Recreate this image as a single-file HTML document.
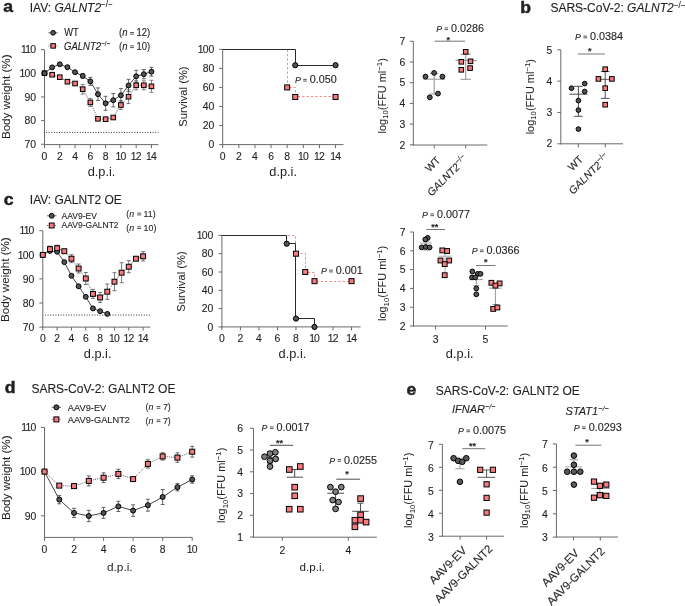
<!DOCTYPE html>
<html><head><meta charset="utf-8"><title>Figure</title><style>
html,body{margin:0;padding:0;background:#fff;width:685px;height:606px;overflow:hidden}
svg{display:block;will-change:transform}
text{font-family:"Liberation Sans", sans-serif;fill:#231f20;stroke:#231f20;stroke-width:0.12px}
</style></head><body>
<svg width="685" height="606" viewBox="0 0 685 606">
<text transform="translate(3.3,11.9) scale(1.1,1)" font-size="16.0" font-weight="bold" style="stroke-width:0.45px">a</text>
<text transform="translate(29.7,11.6)" font-size="12">IAV: <tspan font-style="italic">GALNT2</tspan><tspan dy="-4.5" font-size="0.68em">−/−</tspan></text>
<line x1="48.4" y1="32.8" x2="57.8" y2="32.8" stroke="#444" stroke-width="0.8" stroke-linecap="butt"/>
<circle cx="53.1" cy="32.8" r="2.35" fill="#5a5a5a" stroke="#000" stroke-width="1.0"/>
<text transform="translate(64.2,36.1) scale(0.88,1)" font-size="10.6">WT</text>
<text transform="translate(119,36.2) scale(0.95,1)" font-size="10">(<tspan font-style="italic">n</tspan></text>
<line x1="130.1" y1="32.5" x2="133.9" y2="32.5" stroke="#444" stroke-width="0.9" stroke-linecap="butt"/>
<line x1="130.1" y1="34.2" x2="133.9" y2="34.2" stroke="#444" stroke-width="0.9" stroke-linecap="butt"/>
<text transform="translate(136.4,36.2) scale(0.95,1)" font-size="10">12)</text>
<line x1="48.4" y1="45.9" x2="57.8" y2="45.9" stroke="#444" stroke-width="0.8" stroke-dasharray="1 1" stroke-linecap="butt"/>
<rect x="50.85" y="43.65" width="4.5" height="4.5" fill="#f67b7f" stroke="#000" stroke-width="1.0"/>
<text transform="translate(64,49.8) scale(0.9,1)" font-size="10.6"><tspan font-style="italic">GALNT2</tspan><tspan dy="-4.2" font-size="0.66em">−/−</tspan></text>
<text transform="translate(119,49.6) scale(0.95,1)" font-size="10">(<tspan font-style="italic">n</tspan></text>
<line x1="130.1" y1="45.9" x2="133.9" y2="45.9" stroke="#444" stroke-width="0.9" stroke-linecap="butt"/>
<line x1="130.1" y1="47.6" x2="133.9" y2="47.6" stroke="#444" stroke-width="0.9" stroke-linecap="butt"/>
<text transform="translate(136.4,49.6) scale(0.95,1)" font-size="10">10)</text>
<line x1="44.5" y1="49.65" x2="44.5" y2="145.1" stroke="#6a6a6a" stroke-width="1.0" stroke-linecap="butt"/>
<line x1="44" y1="144.6" x2="158.5" y2="144.6" stroke="#6a6a6a" stroke-width="1.0" stroke-linecap="butt"/>
<line x1="41" y1="49.65" x2="44.5" y2="49.65" stroke="#6a6a6a" stroke-width="1.0" stroke-linecap="butt"/>
<text transform="translate(36,53.35)" font-size="10.4" text-anchor="end">1<tspan dx="-0.8">1</tspan><tspan dx="-0.8">0</tspan></text>
<line x1="41" y1="73.3" x2="44.5" y2="73.3" stroke="#6a6a6a" stroke-width="1.0" stroke-linecap="butt"/>
<text transform="translate(36,77)" font-size="10.4" text-anchor="end">1<tspan dx="-0.8">0</tspan>0</text>
<line x1="41" y1="96.95" x2="44.5" y2="96.95" stroke="#6a6a6a" stroke-width="1.0" stroke-linecap="butt"/>
<text transform="translate(36,100.65)" font-size="10.4" text-anchor="end">90</text>
<line x1="41" y1="120.6" x2="44.5" y2="120.6" stroke="#6a6a6a" stroke-width="1.0" stroke-linecap="butt"/>
<text transform="translate(36,124.3)" font-size="10.4" text-anchor="end">80</text>
<line x1="41" y1="144.25" x2="44.5" y2="144.25" stroke="#6a6a6a" stroke-width="1.0" stroke-linecap="butt"/>
<text transform="translate(36,147.95)" font-size="10.4" text-anchor="end">70</text>
<line x1="44.5" y1="144.6" x2="44.5" y2="148.1" stroke="#6a6a6a" stroke-width="1.0" stroke-linecap="butt"/>
<text transform="translate(44.5,159.7)" font-size="10.4" text-anchor="middle">0</text>
<line x1="59.78" y1="144.6" x2="59.78" y2="148.1" stroke="#6a6a6a" stroke-width="1.0" stroke-linecap="butt"/>
<text transform="translate(59.78,159.7)" font-size="10.4" text-anchor="middle">2</text>
<line x1="75.06" y1="144.6" x2="75.06" y2="148.1" stroke="#6a6a6a" stroke-width="1.0" stroke-linecap="butt"/>
<text transform="translate(75.06,159.7)" font-size="10.4" text-anchor="middle">4</text>
<line x1="90.34" y1="144.6" x2="90.34" y2="148.1" stroke="#6a6a6a" stroke-width="1.0" stroke-linecap="butt"/>
<text transform="translate(90.34,159.7)" font-size="10.4" text-anchor="middle">6</text>
<line x1="105.62" y1="144.6" x2="105.62" y2="148.1" stroke="#6a6a6a" stroke-width="1.0" stroke-linecap="butt"/>
<text transform="translate(105.62,159.7)" font-size="10.4" text-anchor="middle">8</text>
<line x1="120.9" y1="144.6" x2="120.9" y2="148.1" stroke="#6a6a6a" stroke-width="1.0" stroke-linecap="butt"/>
<text transform="translate(120.9,159.7)" font-size="10.4" text-anchor="middle">1<tspan dx="-0.8">0</tspan></text>
<line x1="136.18" y1="144.6" x2="136.18" y2="148.1" stroke="#6a6a6a" stroke-width="1.0" stroke-linecap="butt"/>
<text transform="translate(136.18,159.7)" font-size="10.4" text-anchor="middle">1<tspan dx="-0.8">2</tspan></text>
<line x1="151.46" y1="144.6" x2="151.46" y2="148.1" stroke="#6a6a6a" stroke-width="1.0" stroke-linecap="butt"/>
<text transform="translate(151.46,159.7)" font-size="10.4" text-anchor="middle">1<tspan dx="-0.8">4</tspan></text>
<line x1="46" y1="132.43" x2="158.5" y2="132.43" stroke="#333" stroke-width="1.0" stroke-dasharray="1 1.6" stroke-linecap="butt"/>
<text transform="translate(101.55,176.4) scale(1.03,1)" font-size="12.4" text-anchor="middle" style="stroke-width:0">d.p.i.</text>
<text transform="translate(9.5,96.8) rotate(-90) scale(1.04,1)" font-size="11.2" text-anchor="middle" style="stroke-width:0.04px">Body weight (%)</text>
<line x1="82.7" y1="84.4" x2="82.7" y2="94" stroke="#666" stroke-width="0.8" stroke-linecap="butt"/>
<line x1="80.7" y1="84.4" x2="84.7" y2="84.4" stroke="#666" stroke-width="0.8" stroke-linecap="butt"/>
<line x1="80.7" y1="94" x2="84.7" y2="94" stroke="#666" stroke-width="0.8" stroke-linecap="butt"/>
<line x1="90.34" y1="98.4" x2="90.34" y2="106.4" stroke="#666" stroke-width="0.8" stroke-linecap="butt"/>
<line x1="88.34" y1="98.4" x2="92.34" y2="98.4" stroke="#666" stroke-width="0.8" stroke-linecap="butt"/>
<line x1="88.34" y1="106.4" x2="92.34" y2="106.4" stroke="#666" stroke-width="0.8" stroke-linecap="butt"/>
<line x1="120.9" y1="100.5" x2="120.9" y2="109.5" stroke="#666" stroke-width="0.8" stroke-linecap="butt"/>
<line x1="118.9" y1="100.5" x2="122.9" y2="100.5" stroke="#666" stroke-width="0.8" stroke-linecap="butt"/>
<line x1="118.9" y1="109.5" x2="122.9" y2="109.5" stroke="#666" stroke-width="0.8" stroke-linecap="butt"/>
<line x1="128.54" y1="89.9" x2="128.54" y2="103.5" stroke="#666" stroke-width="0.8" stroke-linecap="butt"/>
<line x1="126.54" y1="89.9" x2="130.54" y2="89.9" stroke="#666" stroke-width="0.8" stroke-linecap="butt"/>
<line x1="126.54" y1="103.5" x2="130.54" y2="103.5" stroke="#666" stroke-width="0.8" stroke-linecap="butt"/>
<line x1="136.18" y1="80.8" x2="136.18" y2="89.8" stroke="#666" stroke-width="0.8" stroke-linecap="butt"/>
<line x1="134.18" y1="80.8" x2="138.18" y2="80.8" stroke="#666" stroke-width="0.8" stroke-linecap="butt"/>
<line x1="134.18" y1="89.8" x2="138.18" y2="89.8" stroke="#666" stroke-width="0.8" stroke-linecap="butt"/>
<line x1="143.82" y1="80.8" x2="143.82" y2="89.8" stroke="#666" stroke-width="0.8" stroke-linecap="butt"/>
<line x1="141.82" y1="80.8" x2="145.82" y2="80.8" stroke="#666" stroke-width="0.8" stroke-linecap="butt"/>
<line x1="141.82" y1="89.8" x2="145.82" y2="89.8" stroke="#666" stroke-width="0.8" stroke-linecap="butt"/>
<line x1="151.46" y1="80.3" x2="151.46" y2="92.3" stroke="#666" stroke-width="0.8" stroke-linecap="butt"/>
<line x1="149.46" y1="80.3" x2="153.46" y2="80.3" stroke="#666" stroke-width="0.8" stroke-linecap="butt"/>
<line x1="149.46" y1="92.3" x2="153.46" y2="92.3" stroke="#666" stroke-width="0.8" stroke-linecap="butt"/>
<line x1="82.7" y1="73.7" x2="82.7" y2="78.1" stroke="#444" stroke-width="0.8" stroke-linecap="butt"/>
<line x1="80.7" y1="73.7" x2="84.7" y2="73.7" stroke="#444" stroke-width="0.8" stroke-linecap="butt"/>
<line x1="80.7" y1="78.1" x2="84.7" y2="78.1" stroke="#444" stroke-width="0.8" stroke-linecap="butt"/>
<line x1="90.34" y1="77.4" x2="90.34" y2="85.4" stroke="#444" stroke-width="0.8" stroke-linecap="butt"/>
<line x1="88.34" y1="77.4" x2="92.34" y2="77.4" stroke="#444" stroke-width="0.8" stroke-linecap="butt"/>
<line x1="88.34" y1="85.4" x2="92.34" y2="85.4" stroke="#444" stroke-width="0.8" stroke-linecap="butt"/>
<line x1="97.98" y1="87.9" x2="97.98" y2="100.5" stroke="#444" stroke-width="0.8" stroke-linecap="butt"/>
<line x1="95.98" y1="87.9" x2="99.98" y2="87.9" stroke="#444" stroke-width="0.8" stroke-linecap="butt"/>
<line x1="95.98" y1="100.5" x2="99.98" y2="100.5" stroke="#444" stroke-width="0.8" stroke-linecap="butt"/>
<line x1="105.62" y1="96.3" x2="105.62" y2="110.3" stroke="#444" stroke-width="0.8" stroke-linecap="butt"/>
<line x1="103.62" y1="96.3" x2="107.62" y2="96.3" stroke="#444" stroke-width="0.8" stroke-linecap="butt"/>
<line x1="103.62" y1="110.3" x2="107.62" y2="110.3" stroke="#444" stroke-width="0.8" stroke-linecap="butt"/>
<line x1="113.26" y1="93.5" x2="113.26" y2="106.9" stroke="#444" stroke-width="0.8" stroke-linecap="butt"/>
<line x1="111.26" y1="93.5" x2="115.26" y2="93.5" stroke="#444" stroke-width="0.8" stroke-linecap="butt"/>
<line x1="111.26" y1="106.9" x2="115.26" y2="106.9" stroke="#444" stroke-width="0.8" stroke-linecap="butt"/>
<line x1="120.9" y1="88.6" x2="120.9" y2="102" stroke="#444" stroke-width="0.8" stroke-linecap="butt"/>
<line x1="118.9" y1="88.6" x2="122.9" y2="88.6" stroke="#444" stroke-width="0.8" stroke-linecap="butt"/>
<line x1="118.9" y1="102" x2="122.9" y2="102" stroke="#444" stroke-width="0.8" stroke-linecap="butt"/>
<line x1="128.54" y1="79.3" x2="128.54" y2="91.7" stroke="#444" stroke-width="0.8" stroke-linecap="butt"/>
<line x1="126.54" y1="79.3" x2="130.54" y2="79.3" stroke="#444" stroke-width="0.8" stroke-linecap="butt"/>
<line x1="126.54" y1="91.7" x2="130.54" y2="91.7" stroke="#444" stroke-width="0.8" stroke-linecap="butt"/>
<line x1="136.18" y1="70.3" x2="136.18" y2="82.3" stroke="#444" stroke-width="0.8" stroke-linecap="butt"/>
<line x1="134.18" y1="70.3" x2="138.18" y2="70.3" stroke="#444" stroke-width="0.8" stroke-linecap="butt"/>
<line x1="134.18" y1="82.3" x2="138.18" y2="82.3" stroke="#444" stroke-width="0.8" stroke-linecap="butt"/>
<line x1="143.82" y1="69.6" x2="143.82" y2="78.8" stroke="#444" stroke-width="0.8" stroke-linecap="butt"/>
<line x1="141.82" y1="69.6" x2="145.82" y2="69.6" stroke="#444" stroke-width="0.8" stroke-linecap="butt"/>
<line x1="141.82" y1="78.8" x2="145.82" y2="78.8" stroke="#444" stroke-width="0.8" stroke-linecap="butt"/>
<line x1="151.46" y1="67.3" x2="151.46" y2="76.1" stroke="#444" stroke-width="0.8" stroke-linecap="butt"/>
<line x1="149.46" y1="67.3" x2="153.46" y2="67.3" stroke="#444" stroke-width="0.8" stroke-linecap="butt"/>
<line x1="149.46" y1="76.1" x2="153.46" y2="76.1" stroke="#444" stroke-width="0.8" stroke-linecap="butt"/>
<polyline points="44.5,73.2 52.14,74.7 59.78,77.2 67.42,81.7 75.06,83.5 82.7,89.2 90.34,102.4 97.98,118.8 105.62,119.2 113.26,117.5 120.9,105 128.54,96.7 136.18,85.3 143.82,85.3 151.46,86.3" fill="none" stroke="#333" stroke-width="0.8" stroke-dasharray="1 1.2" stroke-linejoin="round"/>
<polyline points="44.5,73.2 52.14,67.4 59.78,64.3 67.42,67.2 75.06,72.2 82.7,75.9 90.34,81.4 97.98,94.2 105.62,103.3 113.26,100.2 120.9,95.3 128.54,85.5 136.18,76.3 143.82,74.2 151.46,71.7" fill="none" stroke="#333" stroke-width="0.9" stroke-linejoin="round"/>
<rect x="42.2" y="70.9" width="4.6" height="4.6" fill="#f67b7f" stroke="#000" stroke-width="1.0"/>
<rect x="49.84" y="72.4" width="4.6" height="4.6" fill="#f67b7f" stroke="#000" stroke-width="1.0"/>
<rect x="57.48" y="74.9" width="4.6" height="4.6" fill="#f67b7f" stroke="#000" stroke-width="1.0"/>
<rect x="65.12" y="79.4" width="4.6" height="4.6" fill="#f67b7f" stroke="#000" stroke-width="1.0"/>
<rect x="72.76" y="81.2" width="4.6" height="4.6" fill="#f67b7f" stroke="#000" stroke-width="1.0"/>
<rect x="80.4" y="86.9" width="4.6" height="4.6" fill="#f67b7f" stroke="#000" stroke-width="1.0"/>
<rect x="88.04" y="100.1" width="4.6" height="4.6" fill="#f67b7f" stroke="#000" stroke-width="1.0"/>
<rect x="95.68" y="116.5" width="4.6" height="4.6" fill="#f67b7f" stroke="#000" stroke-width="1.0"/>
<rect x="103.32" y="116.9" width="4.6" height="4.6" fill="#f67b7f" stroke="#000" stroke-width="1.0"/>
<rect x="110.96" y="115.2" width="4.6" height="4.6" fill="#f67b7f" stroke="#000" stroke-width="1.0"/>
<rect x="118.6" y="102.7" width="4.6" height="4.6" fill="#f67b7f" stroke="#000" stroke-width="1.0"/>
<rect x="126.24" y="94.4" width="4.6" height="4.6" fill="#f67b7f" stroke="#000" stroke-width="1.0"/>
<rect x="133.88" y="83" width="4.6" height="4.6" fill="#f67b7f" stroke="#000" stroke-width="1.0"/>
<rect x="141.52" y="83" width="4.6" height="4.6" fill="#f67b7f" stroke="#000" stroke-width="1.0"/>
<rect x="149.16" y="84" width="4.6" height="4.6" fill="#f67b7f" stroke="#000" stroke-width="1.0"/>
<circle cx="44.5" cy="73.2" r="2.45" fill="#555" stroke="#000" stroke-width="1.0"/>
<circle cx="52.14" cy="67.4" r="2.45" fill="#555" stroke="#000" stroke-width="1.0"/>
<circle cx="59.78" cy="64.3" r="2.45" fill="#555" stroke="#000" stroke-width="1.0"/>
<circle cx="67.42" cy="67.2" r="2.45" fill="#555" stroke="#000" stroke-width="1.0"/>
<circle cx="75.06" cy="72.2" r="2.45" fill="#555" stroke="#000" stroke-width="1.0"/>
<circle cx="82.7" cy="75.9" r="2.45" fill="#555" stroke="#000" stroke-width="1.0"/>
<circle cx="90.34" cy="81.4" r="2.45" fill="#555" stroke="#000" stroke-width="1.0"/>
<circle cx="97.98" cy="94.2" r="2.45" fill="#555" stroke="#000" stroke-width="1.0"/>
<circle cx="105.62" cy="103.3" r="2.45" fill="#555" stroke="#000" stroke-width="1.0"/>
<circle cx="113.26" cy="100.2" r="2.45" fill="#555" stroke="#000" stroke-width="1.0"/>
<circle cx="120.9" cy="95.3" r="2.45" fill="#555" stroke="#000" stroke-width="1.0"/>
<circle cx="128.54" cy="85.5" r="2.45" fill="#555" stroke="#000" stroke-width="1.0"/>
<circle cx="136.18" cy="76.3" r="2.45" fill="#555" stroke="#000" stroke-width="1.0"/>
<circle cx="143.82" cy="74.2" r="2.45" fill="#555" stroke="#000" stroke-width="1.0"/>
<circle cx="151.46" cy="71.7" r="2.45" fill="#555" stroke="#000" stroke-width="1.0"/>
<line x1="222.7" y1="49.3" x2="222.7" y2="145.1" stroke="#6a6a6a" stroke-width="1.0" stroke-linecap="butt"/>
<line x1="222.2" y1="144.6" x2="343.5" y2="144.6" stroke="#6a6a6a" stroke-width="1.0" stroke-linecap="butt"/>
<line x1="219.2" y1="144.6" x2="222.7" y2="144.6" stroke="#6a6a6a" stroke-width="1.0" stroke-linecap="butt"/>
<text transform="translate(214.2,148.3)" font-size="10.4" text-anchor="end">0</text>
<line x1="219.2" y1="125.54" x2="222.7" y2="125.54" stroke="#6a6a6a" stroke-width="1.0" stroke-linecap="butt"/>
<text transform="translate(214.2,129.24)" font-size="10.4" text-anchor="end">20</text>
<line x1="219.2" y1="106.48" x2="222.7" y2="106.48" stroke="#6a6a6a" stroke-width="1.0" stroke-linecap="butt"/>
<text transform="translate(214.2,110.18)" font-size="10.4" text-anchor="end">40</text>
<line x1="219.2" y1="87.42" x2="222.7" y2="87.42" stroke="#6a6a6a" stroke-width="1.0" stroke-linecap="butt"/>
<text transform="translate(214.2,91.12)" font-size="10.4" text-anchor="end">60</text>
<line x1="219.2" y1="68.36" x2="222.7" y2="68.36" stroke="#6a6a6a" stroke-width="1.0" stroke-linecap="butt"/>
<text transform="translate(214.2,72.06)" font-size="10.4" text-anchor="end">80</text>
<line x1="219.2" y1="49.3" x2="222.7" y2="49.3" stroke="#6a6a6a" stroke-width="1.0" stroke-linecap="butt"/>
<text transform="translate(214.2,53)" font-size="10.4" text-anchor="end">1<tspan dx="-0.8">0</tspan>0</text>
<line x1="222.7" y1="144.6" x2="222.7" y2="148.1" stroke="#6a6a6a" stroke-width="1.0" stroke-linecap="butt"/>
<text transform="translate(222.7,159.7)" font-size="10.4" text-anchor="middle">0</text>
<line x1="238.82" y1="144.6" x2="238.82" y2="148.1" stroke="#6a6a6a" stroke-width="1.0" stroke-linecap="butt"/>
<text transform="translate(238.82,159.7)" font-size="10.4" text-anchor="middle">2</text>
<line x1="254.94" y1="144.6" x2="254.94" y2="148.1" stroke="#6a6a6a" stroke-width="1.0" stroke-linecap="butt"/>
<text transform="translate(254.94,159.7)" font-size="10.4" text-anchor="middle">4</text>
<line x1="271.06" y1="144.6" x2="271.06" y2="148.1" stroke="#6a6a6a" stroke-width="1.0" stroke-linecap="butt"/>
<text transform="translate(271.06,159.7)" font-size="10.4" text-anchor="middle">6</text>
<line x1="287.18" y1="144.6" x2="287.18" y2="148.1" stroke="#6a6a6a" stroke-width="1.0" stroke-linecap="butt"/>
<text transform="translate(287.18,159.7)" font-size="10.4" text-anchor="middle">8</text>
<line x1="303.3" y1="144.6" x2="303.3" y2="148.1" stroke="#6a6a6a" stroke-width="1.0" stroke-linecap="butt"/>
<text transform="translate(303.3,159.7)" font-size="10.4" text-anchor="middle">1<tspan dx="-0.8">0</tspan></text>
<line x1="319.42" y1="144.6" x2="319.42" y2="148.1" stroke="#6a6a6a" stroke-width="1.0" stroke-linecap="butt"/>
<text transform="translate(319.42,159.7)" font-size="10.4" text-anchor="middle">1<tspan dx="-0.8">2</tspan></text>
<line x1="335.54" y1="144.6" x2="335.54" y2="148.1" stroke="#6a6a6a" stroke-width="1.0" stroke-linecap="butt"/>
<text transform="translate(335.54,159.7)" font-size="10.4" text-anchor="middle">1<tspan dx="-0.8">4</tspan></text>
<text transform="translate(283.15,176.4) scale(1.03,1)" font-size="12.4" text-anchor="middle" style="stroke-width:0">d.p.i.</text>
<text transform="translate(187.3,96.6) rotate(-90)" font-size="11.2" text-anchor="middle" style="stroke-width:0.04px">Survival (%)</text>
<polyline points="287.5,49.5 287.5,87.5 295.5,87.5 295.5,96.5 335.5,96.5" fill="none" stroke="#f37f7f" stroke-width="0.9" stroke-dasharray="2.4 2" stroke-linejoin="round"/>
<polyline points="222.5,49.5 295.5,49.5 295.5,65.5 335.5,65.5" fill="none" stroke="#2a2a2a" stroke-width="1.0" stroke-linejoin="round"/>
<rect x="284.68" y="84.92" width="5" height="5" fill="#f67b7f" stroke="#000" stroke-width="1.0"/>
<rect x="292.74" y="94.45" width="5" height="5" fill="#f67b7f" stroke="#000" stroke-width="1.0"/>
<rect x="333.04" y="94.45" width="5" height="5" fill="#f67b7f" stroke="#000" stroke-width="1.0"/>
<circle cx="295.24" cy="65.22" r="2.6" fill="#555" stroke="#000" stroke-width="1.0"/>
<circle cx="335.54" cy="65.22" r="2.6" fill="#555" stroke="#000" stroke-width="1.0"/>
<text transform="translate(294.9,83.3) scale(0.9,1)" font-size="9.8" font-style="italic">P</text>
<line x1="303.2" y1="79.4" x2="306.8" y2="79.4" stroke="#444" stroke-width="0.9" stroke-linecap="butt"/>
<line x1="303.2" y1="81.1" x2="306.8" y2="81.1" stroke="#444" stroke-width="0.9" stroke-linecap="butt"/>
<text transform="translate(309.8,83.3) scale(1.02,1)" font-size="10.6">0.050</text>
<line x1="413.3" y1="41.3" x2="413.3" y2="145.5" stroke="#6a6a6a" stroke-width="1.0" stroke-linecap="butt"/>
<line x1="412.8" y1="145" x2="487.3" y2="145" stroke="#6a6a6a" stroke-width="1.0" stroke-linecap="butt"/>
<line x1="409.8" y1="144.8" x2="413.3" y2="144.8" stroke="#6a6a6a" stroke-width="1.0" stroke-linecap="butt"/>
<text transform="translate(405.4,148.5)" font-size="10.4" text-anchor="end">2</text>
<line x1="409.8" y1="124.1" x2="413.3" y2="124.1" stroke="#6a6a6a" stroke-width="1.0" stroke-linecap="butt"/>
<text transform="translate(405.4,127.8)" font-size="10.4" text-anchor="end">3</text>
<line x1="409.8" y1="103.4" x2="413.3" y2="103.4" stroke="#6a6a6a" stroke-width="1.0" stroke-linecap="butt"/>
<text transform="translate(405.4,107.1)" font-size="10.4" text-anchor="end">4</text>
<line x1="409.8" y1="82.7" x2="413.3" y2="82.7" stroke="#6a6a6a" stroke-width="1.0" stroke-linecap="butt"/>
<text transform="translate(405.4,86.4)" font-size="10.4" text-anchor="end">5</text>
<line x1="409.8" y1="62" x2="413.3" y2="62" stroke="#6a6a6a" stroke-width="1.0" stroke-linecap="butt"/>
<text transform="translate(405.4,65.7)" font-size="10.4" text-anchor="end">6</text>
<line x1="409.8" y1="41.3" x2="413.3" y2="41.3" stroke="#6a6a6a" stroke-width="1.0" stroke-linecap="butt"/>
<text transform="translate(405.4,45)" font-size="10.4" text-anchor="end">7</text>
<line x1="434.2" y1="145" x2="434.2" y2="148.5" stroke="#6a6a6a" stroke-width="1.0" stroke-linecap="butt"/>
<line x1="465.7" y1="145" x2="465.7" y2="148.5" stroke="#6a6a6a" stroke-width="1.0" stroke-linecap="butt"/>
<text transform="translate(385.6,95.8) rotate(-90) scale(1.03,1)" font-size="10.6" text-anchor="middle" style="stroke-width:0.04px">log<tspan dy="2.6" font-size="0.72em">10</tspan><tspan dy="-2.6">(FFU ml</tspan><tspan dy="-4" font-size="0.72em">−1</tspan><tspan dy="4">)</tspan></text>
<line x1="423.3" y1="79.2" x2="445" y2="79.2" stroke="#999" stroke-width="1.1" stroke-linecap="butt"/>
<line x1="434.2" y1="73.4" x2="434.2" y2="94" stroke="#999" stroke-width="1.1" stroke-linecap="butt"/>
<line x1="429.95" y1="73.4" x2="438.45" y2="73.4" stroke="#999" stroke-width="1.1" stroke-linecap="butt"/>
<line x1="429.95" y1="94" x2="438.45" y2="94" stroke="#999" stroke-width="1.1" stroke-linecap="butt"/>
<circle cx="425.5" cy="76.6" r="2.4" fill="#555" stroke="#000" stroke-width="1.0"/>
<circle cx="434.1" cy="72.9" r="2.4" fill="#555" stroke="#000" stroke-width="1.0"/>
<circle cx="442.4" cy="76.6" r="2.4" fill="#555" stroke="#000" stroke-width="1.0"/>
<circle cx="429.8" cy="97.3" r="2.4" fill="#555" stroke="#000" stroke-width="1.0"/>
<circle cx="438" cy="93.6" r="2.4" fill="#555" stroke="#000" stroke-width="1.0"/>
<line x1="455.4" y1="60.4" x2="476.7" y2="60.4" stroke="#999" stroke-width="1.1" stroke-linecap="butt"/>
<line x1="465.7" y1="54.3" x2="465.7" y2="79.3" stroke="#999" stroke-width="1.1" stroke-linecap="butt"/>
<line x1="460.6" y1="54.3" x2="470.8" y2="54.3" stroke="#999" stroke-width="1.1" stroke-linecap="butt"/>
<line x1="460.6" y1="79.3" x2="470.8" y2="79.3" stroke="#999" stroke-width="1.1" stroke-linecap="butt"/>
<rect x="463.4" y="49.5" width="4.6" height="4.6" fill="#f67b7f" stroke="#000" stroke-width="1.0"/>
<rect x="459" y="59.5" width="4.6" height="4.6" fill="#f67b7f" stroke="#000" stroke-width="1.0"/>
<rect x="468.2" y="59" width="4.6" height="4.6" fill="#f67b7f" stroke="#000" stroke-width="1.0"/>
<rect x="459" y="67.5" width="4.6" height="4.6" fill="#f67b7f" stroke="#000" stroke-width="1.0"/>
<rect x="467.8" y="65.8" width="4.6" height="4.6" fill="#f67b7f" stroke="#000" stroke-width="1.0"/>
<line x1="434.7" y1="41.2" x2="465" y2="41.2" stroke="#666" stroke-width="0.9" stroke-linecap="butt"/>
<text transform="translate(448.3,42.54)" font-size="9" text-anchor="middle" font-weight="bold">*</text>
<text transform="translate(436.2,31.8) scale(0.9,1)" font-size="9.8" font-style="italic">P</text>
<line x1="444.5" y1="27.9" x2="448.1" y2="27.9" stroke="#444" stroke-width="0.9" stroke-linecap="butt"/>
<line x1="444.5" y1="29.6" x2="448.1" y2="29.6" stroke="#444" stroke-width="0.9" stroke-linecap="butt"/>
<text transform="translate(451.1,31.8) scale(1.02,1)" font-size="10.6">0.0286</text>
<text transform="translate(441.1,160.9) rotate(-45)" font-size="10.5" text-anchor="end">WT</text>
<text transform="translate(468.3,159.8) rotate(-45)" font-size="10.5" text-anchor="end"><tspan font-style="italic">GALNT2</tspan><tspan dy="-4.2" dx="0.4" font-size="0.72em">−/−</tspan></text>
<text transform="translate(520.3,12.6) scale(1.1,1)" font-size="16.0" font-weight="bold" style="stroke-width:0.45px">b</text>
<text transform="translate(550.4,12.3)" font-size="12">SARS-CoV-2: <tspan font-style="italic">GALNT2</tspan><tspan dy="-4.5" font-size="0.68em">−/−</tspan></text>
<line x1="560.8" y1="49.8" x2="560.8" y2="144.3" stroke="#6a6a6a" stroke-width="1.0" stroke-linecap="butt"/>
<line x1="560.3" y1="143.8" x2="623" y2="143.8" stroke="#6a6a6a" stroke-width="1.0" stroke-linecap="butt"/>
<line x1="557.3" y1="143.79" x2="560.8" y2="143.79" stroke="#6a6a6a" stroke-width="1.0" stroke-linecap="butt"/>
<text transform="translate(552.4,147.49)" font-size="10.4" text-anchor="end">2</text>
<line x1="557.3" y1="112.46" x2="560.8" y2="112.46" stroke="#6a6a6a" stroke-width="1.0" stroke-linecap="butt"/>
<text transform="translate(552.4,116.16)" font-size="10.4" text-anchor="end">3</text>
<line x1="557.3" y1="81.13" x2="560.8" y2="81.13" stroke="#6a6a6a" stroke-width="1.0" stroke-linecap="butt"/>
<text transform="translate(552.4,84.83)" font-size="10.4" text-anchor="end">4</text>
<line x1="557.3" y1="49.8" x2="560.8" y2="49.8" stroke="#6a6a6a" stroke-width="1.0" stroke-linecap="butt"/>
<text transform="translate(552.4,53.5)" font-size="10.4" text-anchor="end">5</text>
<line x1="578.4" y1="143.8" x2="578.4" y2="147.3" stroke="#6a6a6a" stroke-width="1.0" stroke-linecap="butt"/>
<line x1="605.3" y1="143.8" x2="605.3" y2="147.3" stroke="#6a6a6a" stroke-width="1.0" stroke-linecap="butt"/>
<text transform="translate(533.7,96.7) rotate(-90) scale(1.03,1)" font-size="10.6" text-anchor="middle" style="stroke-width:0.04px">log<tspan dy="2.6" font-size="0.72em">10</tspan><tspan dy="-2.6">(FFU ml</tspan><tspan dy="-4" font-size="0.72em">−1</tspan><tspan dy="4">)</tspan></text>
<line x1="569.3" y1="94.2" x2="587.5" y2="94.2" stroke="#444" stroke-width="0.95" stroke-linecap="butt"/>
<line x1="578.4" y1="86.3" x2="578.4" y2="116.3" stroke="#444" stroke-width="0.95" stroke-linecap="butt"/>
<line x1="574.1" y1="86.3" x2="582.7" y2="86.3" stroke="#444" stroke-width="0.95" stroke-linecap="butt"/>
<line x1="574.1" y1="116.3" x2="582.7" y2="116.3" stroke="#444" stroke-width="0.95" stroke-linecap="butt"/>
<circle cx="571.5" cy="88.2" r="2.35" fill="#505050" stroke="#000" stroke-width="1.0"/>
<circle cx="584.7" cy="83.6" r="2.35" fill="#505050" stroke="#000" stroke-width="1.0"/>
<circle cx="584.7" cy="91.5" r="2.35" fill="#505050" stroke="#000" stroke-width="1.0"/>
<circle cx="578.4" cy="100.6" r="2.35" fill="#505050" stroke="#000" stroke-width="1.0"/>
<circle cx="578.4" cy="110.1" r="2.35" fill="#505050" stroke="#000" stroke-width="1.0"/>
<circle cx="578.4" cy="129.1" r="2.35" fill="#505050" stroke="#000" stroke-width="1.0"/>
<line x1="595.9" y1="79.3" x2="614.4" y2="79.3" stroke="#444" stroke-width="0.9" stroke-linecap="butt"/>
<line x1="605.2" y1="71.6" x2="605.2" y2="98.4" stroke="#444" stroke-width="0.95" stroke-linecap="butt"/>
<line x1="600.9" y1="71.6" x2="609.5" y2="71.6" stroke="#444" stroke-width="0.95" stroke-linecap="butt"/>
<line x1="600.9" y1="98.4" x2="609.5" y2="98.4" stroke="#444" stroke-width="0.95" stroke-linecap="butt"/>
<rect x="602.9" y="66.9" width="4.6" height="4.6" fill="#f67b7f" stroke="#000" stroke-width="1.0"/>
<rect x="596.1" y="76.6" width="4.6" height="4.6" fill="#f67b7f" stroke="#000" stroke-width="1.0"/>
<rect x="609.6" y="76.6" width="4.6" height="4.6" fill="#f67b7f" stroke="#000" stroke-width="1.0"/>
<rect x="602.9" y="85.9" width="4.6" height="4.6" fill="#f67b7f" stroke="#000" stroke-width="1.0"/>
<rect x="602.9" y="102.4" width="4.6" height="4.6" fill="#f67b7f" stroke="#000" stroke-width="1.0"/>
<line x1="577.8" y1="54" x2="604.8" y2="54" stroke="#666" stroke-width="0.9" stroke-linecap="butt"/>
<text transform="translate(589.7,53.64)" font-size="9" text-anchor="middle" font-weight="bold">*</text>
<text transform="translate(575.1,40) scale(0.9,1)" font-size="9.8" font-style="italic">P</text>
<line x1="583.4" y1="36.1" x2="587" y2="36.1" stroke="#444" stroke-width="0.9" stroke-linecap="butt"/>
<line x1="583.4" y1="37.8" x2="587" y2="37.8" stroke="#444" stroke-width="0.9" stroke-linecap="butt"/>
<text transform="translate(590,40) scale(1.02,1)" font-size="10.6">0.0384</text>
<text transform="translate(583.9,159.9) rotate(-45)" font-size="10.5" text-anchor="end">WT</text>
<text transform="translate(609.9,158) rotate(-45)" font-size="10.5" text-anchor="end"><tspan font-style="italic">GALNT2</tspan><tspan dy="-4.2" dx="0.4" font-size="0.72em">−/−</tspan></text>
<text transform="translate(3.7,204.7) scale(1.1,1)" font-size="16.0" font-weight="bold" style="stroke-width:0.45px">c</text>
<text transform="translate(29.8,204.4)" font-size="12">IAV: GALNT2 OE</text>
<line x1="47" y1="215.8" x2="56.5" y2="215.8" stroke="#444" stroke-width="0.8" stroke-linecap="butt"/>
<circle cx="51.7" cy="215.8" r="2.45" fill="#555" stroke="#000" stroke-width="1.0"/>
<text transform="translate(61.6,218.6)" font-size="8.5">AAV9-EV</text>
<line x1="47" y1="225.5" x2="56.5" y2="225.5" stroke="#444" stroke-width="0.8" stroke-dasharray="1 1" stroke-linecap="butt"/>
<rect x="49.25" y="223.05" width="4.9" height="4.9" fill="#f67b7f" stroke="#000" stroke-width="1.0"/>
<text transform="translate(61.6,228.4)" font-size="8.5">AAV9-GALNT2</text>
<text transform="translate(126.2,216.9) scale(0.95,1)" font-size="9.3">(<tspan font-style="italic">n</tspan></text>
<line x1="137.3" y1="213.2" x2="141.1" y2="213.2" stroke="#444" stroke-width="0.9" stroke-linecap="butt"/>
<line x1="137.3" y1="214.9" x2="141.1" y2="214.9" stroke="#444" stroke-width="0.9" stroke-linecap="butt"/>
<text transform="translate(143.6,216.9) scale(0.95,1)" font-size="9.3">11)</text>
<text transform="translate(126.2,230.5) scale(0.95,1)" font-size="9.3">(<tspan font-style="italic">n</tspan></text>
<line x1="137.3" y1="226.8" x2="141.1" y2="226.8" stroke="#444" stroke-width="0.9" stroke-linecap="butt"/>
<line x1="137.3" y1="228.5" x2="141.1" y2="228.5" stroke="#444" stroke-width="0.9" stroke-linecap="butt"/>
<text transform="translate(143.6,230.5) scale(0.95,1)" font-size="9.3">10)</text>
<line x1="42.8" y1="230.7" x2="42.8" y2="327.6" stroke="#6a6a6a" stroke-width="1.0" stroke-linecap="butt"/>
<line x1="42.3" y1="327.1" x2="150.4" y2="327.1" stroke="#6a6a6a" stroke-width="1.0" stroke-linecap="butt"/>
<line x1="39.3" y1="230.7" x2="42.8" y2="230.7" stroke="#6a6a6a" stroke-width="1.0" stroke-linecap="butt"/>
<text transform="translate(34.4,234.4)" font-size="10.4" text-anchor="end">1<tspan dx="-0.8">1</tspan><tspan dx="-0.8">0</tspan></text>
<line x1="39.3" y1="254.8" x2="42.8" y2="254.8" stroke="#6a6a6a" stroke-width="1.0" stroke-linecap="butt"/>
<text transform="translate(34.4,258.5)" font-size="10.4" text-anchor="end">1<tspan dx="-0.8">0</tspan>0</text>
<line x1="39.3" y1="278.9" x2="42.8" y2="278.9" stroke="#6a6a6a" stroke-width="1.0" stroke-linecap="butt"/>
<text transform="translate(34.4,282.6)" font-size="10.4" text-anchor="end">90</text>
<line x1="39.3" y1="303" x2="42.8" y2="303" stroke="#6a6a6a" stroke-width="1.0" stroke-linecap="butt"/>
<text transform="translate(34.4,306.7)" font-size="10.4" text-anchor="end">80</text>
<line x1="39.3" y1="327.1" x2="42.8" y2="327.1" stroke="#6a6a6a" stroke-width="1.0" stroke-linecap="butt"/>
<text transform="translate(34.4,330.8)" font-size="10.4" text-anchor="end">70</text>
<line x1="42.8" y1="327.1" x2="42.8" y2="330.6" stroke="#6a6a6a" stroke-width="1.0" stroke-linecap="butt"/>
<text transform="translate(42.8,342.3)" font-size="10.4" text-anchor="middle">0</text>
<line x1="57.13" y1="327.1" x2="57.13" y2="330.6" stroke="#6a6a6a" stroke-width="1.0" stroke-linecap="butt"/>
<text transform="translate(57.13,342.3)" font-size="10.4" text-anchor="middle">2</text>
<line x1="71.46" y1="327.1" x2="71.46" y2="330.6" stroke="#6a6a6a" stroke-width="1.0" stroke-linecap="butt"/>
<text transform="translate(71.46,342.3)" font-size="10.4" text-anchor="middle">4</text>
<line x1="85.79" y1="327.1" x2="85.79" y2="330.6" stroke="#6a6a6a" stroke-width="1.0" stroke-linecap="butt"/>
<text transform="translate(85.79,342.3)" font-size="10.4" text-anchor="middle">6</text>
<line x1="100.12" y1="327.1" x2="100.12" y2="330.6" stroke="#6a6a6a" stroke-width="1.0" stroke-linecap="butt"/>
<text transform="translate(100.12,342.3)" font-size="10.4" text-anchor="middle">8</text>
<line x1="114.45" y1="327.1" x2="114.45" y2="330.6" stroke="#6a6a6a" stroke-width="1.0" stroke-linecap="butt"/>
<text transform="translate(114.45,342.3)" font-size="10.4" text-anchor="middle">1<tspan dx="-0.8">0</tspan></text>
<line x1="128.78" y1="327.1" x2="128.78" y2="330.6" stroke="#6a6a6a" stroke-width="1.0" stroke-linecap="butt"/>
<text transform="translate(128.78,342.3)" font-size="10.4" text-anchor="middle">1<tspan dx="-0.8">2</tspan></text>
<line x1="143.11" y1="327.1" x2="143.11" y2="330.6" stroke="#6a6a6a" stroke-width="1.0" stroke-linecap="butt"/>
<text transform="translate(143.11,342.3)" font-size="10.4" text-anchor="middle">1<tspan dx="-0.8">4</tspan></text>
<line x1="45" y1="315.05" x2="150.4" y2="315.05" stroke="#333" stroke-width="1.0" stroke-dasharray="1 1.6" stroke-linecap="butt"/>
<text transform="translate(97.65,357.9) scale(1.03,1)" font-size="12.4" text-anchor="middle" style="stroke-width:0">d.p.i.</text>
<text transform="translate(8.7,279.6) rotate(-90) scale(1.04,1)" font-size="11.2" text-anchor="middle" style="stroke-width:0.04px">Body weight (%)</text>
<line x1="49.96" y1="246.1" x2="49.96" y2="252.1" stroke="#555" stroke-width="0.8" stroke-linecap="butt"/>
<line x1="47.96" y1="246.1" x2="51.96" y2="246.1" stroke="#555" stroke-width="0.8" stroke-linecap="butt"/>
<line x1="47.96" y1="252.1" x2="51.96" y2="252.1" stroke="#555" stroke-width="0.8" stroke-linecap="butt"/>
<line x1="57.13" y1="245.2" x2="57.13" y2="251.2" stroke="#555" stroke-width="0.8" stroke-linecap="butt"/>
<line x1="55.13" y1="245.2" x2="59.13" y2="245.2" stroke="#555" stroke-width="0.8" stroke-linecap="butt"/>
<line x1="55.13" y1="251.2" x2="59.13" y2="251.2" stroke="#555" stroke-width="0.8" stroke-linecap="butt"/>
<line x1="71.46" y1="254.7" x2="71.46" y2="262.7" stroke="#555" stroke-width="0.8" stroke-linecap="butt"/>
<line x1="69.46" y1="254.7" x2="73.46" y2="254.7" stroke="#555" stroke-width="0.8" stroke-linecap="butt"/>
<line x1="69.46" y1="262.7" x2="73.46" y2="262.7" stroke="#555" stroke-width="0.8" stroke-linecap="butt"/>
<line x1="78.62" y1="264" x2="78.62" y2="273" stroke="#555" stroke-width="0.8" stroke-linecap="butt"/>
<line x1="76.62" y1="264" x2="80.62" y2="264" stroke="#555" stroke-width="0.8" stroke-linecap="butt"/>
<line x1="76.62" y1="273" x2="80.62" y2="273" stroke="#555" stroke-width="0.8" stroke-linecap="butt"/>
<line x1="85.79" y1="272.5" x2="85.79" y2="284.5" stroke="#555" stroke-width="0.8" stroke-linecap="butt"/>
<line x1="83.79" y1="272.5" x2="87.79" y2="272.5" stroke="#555" stroke-width="0.8" stroke-linecap="butt"/>
<line x1="83.79" y1="284.5" x2="87.79" y2="284.5" stroke="#555" stroke-width="0.8" stroke-linecap="butt"/>
<line x1="92.95" y1="289.4" x2="92.95" y2="298.4" stroke="#555" stroke-width="0.8" stroke-linecap="butt"/>
<line x1="90.95" y1="289.4" x2="94.95" y2="289.4" stroke="#555" stroke-width="0.8" stroke-linecap="butt"/>
<line x1="90.95" y1="298.4" x2="94.95" y2="298.4" stroke="#555" stroke-width="0.8" stroke-linecap="butt"/>
<line x1="100.12" y1="292.5" x2="100.12" y2="302.5" stroke="#555" stroke-width="0.8" stroke-linecap="butt"/>
<line x1="98.12" y1="292.5" x2="102.12" y2="292.5" stroke="#555" stroke-width="0.8" stroke-linecap="butt"/>
<line x1="98.12" y1="302.5" x2="102.12" y2="302.5" stroke="#555" stroke-width="0.8" stroke-linecap="butt"/>
<line x1="107.28" y1="284" x2="107.28" y2="299.4" stroke="#555" stroke-width="0.8" stroke-linecap="butt"/>
<line x1="105.28" y1="284" x2="109.28" y2="284" stroke="#555" stroke-width="0.8" stroke-linecap="butt"/>
<line x1="105.28" y1="299.4" x2="109.28" y2="299.4" stroke="#555" stroke-width="0.8" stroke-linecap="butt"/>
<line x1="114.45" y1="272.7" x2="114.45" y2="290.7" stroke="#555" stroke-width="0.8" stroke-linecap="butt"/>
<line x1="112.45" y1="272.7" x2="116.45" y2="272.7" stroke="#555" stroke-width="0.8" stroke-linecap="butt"/>
<line x1="112.45" y1="290.7" x2="116.45" y2="290.7" stroke="#555" stroke-width="0.8" stroke-linecap="butt"/>
<line x1="121.61" y1="262.7" x2="121.61" y2="282.7" stroke="#555" stroke-width="0.8" stroke-linecap="butt"/>
<line x1="119.61" y1="262.7" x2="123.61" y2="262.7" stroke="#555" stroke-width="0.8" stroke-linecap="butt"/>
<line x1="119.61" y1="282.7" x2="123.61" y2="282.7" stroke="#555" stroke-width="0.8" stroke-linecap="butt"/>
<line x1="128.78" y1="260.7" x2="128.78" y2="272.7" stroke="#555" stroke-width="0.8" stroke-linecap="butt"/>
<line x1="126.78" y1="260.7" x2="130.78" y2="260.7" stroke="#555" stroke-width="0.8" stroke-linecap="butt"/>
<line x1="126.78" y1="272.7" x2="130.78" y2="272.7" stroke="#555" stroke-width="0.8" stroke-linecap="butt"/>
<line x1="143.11" y1="251.6" x2="143.11" y2="261" stroke="#555" stroke-width="0.8" stroke-linecap="butt"/>
<line x1="141.11" y1="251.6" x2="145.11" y2="251.6" stroke="#555" stroke-width="0.8" stroke-linecap="butt"/>
<line x1="141.11" y1="261" x2="145.11" y2="261" stroke="#555" stroke-width="0.8" stroke-linecap="butt"/>
<polyline points="42.8,254.9 49.96,250.9 57.13,251.8 64.3,262.1 71.46,275.8 78.62,286.3 85.79,296.8 92.95,308.4 100.12,311.2 107.28,313.9" fill="none" stroke="#333" stroke-width="0.9" stroke-linejoin="round"/>
<polyline points="42.8,254.9 49.96,249.1 57.13,248.2 64.3,251.2 71.46,258.7 78.62,268.5 85.79,278.5 92.95,293.9 100.12,297.5 107.28,291.7 114.45,281.7 121.61,272.7 128.78,266.7 135.94,258.7 143.11,256.3" fill="none" stroke="#333" stroke-width="0.8" stroke-dasharray="1 1.2" stroke-linejoin="round"/>
<circle cx="42.8" cy="254.9" r="2.45" fill="#555" stroke="#000" stroke-width="1.0"/>
<circle cx="49.96" cy="250.9" r="2.45" fill="#555" stroke="#000" stroke-width="1.0"/>
<circle cx="57.13" cy="251.8" r="2.45" fill="#555" stroke="#000" stroke-width="1.0"/>
<circle cx="64.3" cy="262.1" r="2.45" fill="#555" stroke="#000" stroke-width="1.0"/>
<circle cx="71.46" cy="275.8" r="2.45" fill="#555" stroke="#000" stroke-width="1.0"/>
<circle cx="78.62" cy="286.3" r="2.45" fill="#555" stroke="#000" stroke-width="1.0"/>
<circle cx="85.79" cy="296.8" r="2.45" fill="#555" stroke="#000" stroke-width="1.0"/>
<circle cx="92.95" cy="308.4" r="2.45" fill="#555" stroke="#000" stroke-width="1.0"/>
<circle cx="100.12" cy="311.2" r="2.45" fill="#555" stroke="#000" stroke-width="1.0"/>
<circle cx="107.28" cy="313.9" r="2.45" fill="#555" stroke="#000" stroke-width="1.0"/>
<rect x="40.35" y="252.45" width="4.9" height="4.9" fill="#f67b7f" stroke="#000" stroke-width="1.0"/>
<rect x="47.51" y="246.65" width="4.9" height="4.9" fill="#f67b7f" stroke="#000" stroke-width="1.0"/>
<rect x="54.68" y="245.75" width="4.9" height="4.9" fill="#f67b7f" stroke="#000" stroke-width="1.0"/>
<rect x="61.84" y="248.75" width="4.9" height="4.9" fill="#f67b7f" stroke="#000" stroke-width="1.0"/>
<rect x="69.01" y="256.25" width="4.9" height="4.9" fill="#f67b7f" stroke="#000" stroke-width="1.0"/>
<rect x="76.17" y="266.05" width="4.9" height="4.9" fill="#f67b7f" stroke="#000" stroke-width="1.0"/>
<rect x="83.34" y="276.05" width="4.9" height="4.9" fill="#f67b7f" stroke="#000" stroke-width="1.0"/>
<rect x="90.5" y="291.45" width="4.9" height="4.9" fill="#f67b7f" stroke="#000" stroke-width="1.0"/>
<rect x="97.67" y="295.05" width="4.9" height="4.9" fill="#f67b7f" stroke="#000" stroke-width="1.0"/>
<rect x="104.83" y="289.25" width="4.9" height="4.9" fill="#f67b7f" stroke="#000" stroke-width="1.0"/>
<rect x="112" y="279.25" width="4.9" height="4.9" fill="#f67b7f" stroke="#000" stroke-width="1.0"/>
<rect x="119.16" y="270.25" width="4.9" height="4.9" fill="#f67b7f" stroke="#000" stroke-width="1.0"/>
<rect x="126.33" y="264.25" width="4.9" height="4.9" fill="#f67b7f" stroke="#000" stroke-width="1.0"/>
<rect x="133.5" y="256.25" width="4.9" height="4.9" fill="#f67b7f" stroke="#000" stroke-width="1.0"/>
<rect x="140.66" y="253.85" width="4.9" height="4.9" fill="#f67b7f" stroke="#000" stroke-width="1.0"/>
<line x1="221.9" y1="235.4" x2="221.9" y2="327.4" stroke="#6a6a6a" stroke-width="1.0" stroke-linecap="butt"/>
<line x1="221.4" y1="326.9" x2="360.7" y2="326.9" stroke="#6a6a6a" stroke-width="1.0" stroke-linecap="butt"/>
<line x1="218.4" y1="326.9" x2="221.9" y2="326.9" stroke="#6a6a6a" stroke-width="1.0" stroke-linecap="butt"/>
<text transform="translate(213.4,330.6)" font-size="10.4" text-anchor="end">0</text>
<line x1="218.4" y1="308.6" x2="221.9" y2="308.6" stroke="#6a6a6a" stroke-width="1.0" stroke-linecap="butt"/>
<text transform="translate(213.4,312.3)" font-size="10.4" text-anchor="end">20</text>
<line x1="218.4" y1="290.3" x2="221.9" y2="290.3" stroke="#6a6a6a" stroke-width="1.0" stroke-linecap="butt"/>
<text transform="translate(213.4,294)" font-size="10.4" text-anchor="end">40</text>
<line x1="218.4" y1="272" x2="221.9" y2="272" stroke="#6a6a6a" stroke-width="1.0" stroke-linecap="butt"/>
<text transform="translate(213.4,275.7)" font-size="10.4" text-anchor="end">60</text>
<line x1="218.4" y1="253.7" x2="221.9" y2="253.7" stroke="#6a6a6a" stroke-width="1.0" stroke-linecap="butt"/>
<text transform="translate(213.4,257.4)" font-size="10.4" text-anchor="end">80</text>
<line x1="218.4" y1="235.4" x2="221.9" y2="235.4" stroke="#6a6a6a" stroke-width="1.0" stroke-linecap="butt"/>
<text transform="translate(213.4,239.1)" font-size="10.4" text-anchor="end">1<tspan dx="-0.8">0</tspan>0</text>
<line x1="221.9" y1="326.9" x2="221.9" y2="330.4" stroke="#6a6a6a" stroke-width="1.0" stroke-linecap="butt"/>
<text transform="translate(221.9,342.3)" font-size="10.4" text-anchor="middle">0</text>
<line x1="240.42" y1="326.9" x2="240.42" y2="330.4" stroke="#6a6a6a" stroke-width="1.0" stroke-linecap="butt"/>
<text transform="translate(240.42,342.3)" font-size="10.4" text-anchor="middle">2</text>
<line x1="258.94" y1="326.9" x2="258.94" y2="330.4" stroke="#6a6a6a" stroke-width="1.0" stroke-linecap="butt"/>
<text transform="translate(258.94,342.3)" font-size="10.4" text-anchor="middle">4</text>
<line x1="277.46" y1="326.9" x2="277.46" y2="330.4" stroke="#6a6a6a" stroke-width="1.0" stroke-linecap="butt"/>
<text transform="translate(277.46,342.3)" font-size="10.4" text-anchor="middle">6</text>
<line x1="295.98" y1="326.9" x2="295.98" y2="330.4" stroke="#6a6a6a" stroke-width="1.0" stroke-linecap="butt"/>
<text transform="translate(295.98,342.3)" font-size="10.4" text-anchor="middle">8</text>
<line x1="314.5" y1="326.9" x2="314.5" y2="330.4" stroke="#6a6a6a" stroke-width="1.0" stroke-linecap="butt"/>
<text transform="translate(314.5,342.3)" font-size="10.4" text-anchor="middle">1<tspan dx="-0.8">0</tspan></text>
<line x1="333.02" y1="326.9" x2="333.02" y2="330.4" stroke="#6a6a6a" stroke-width="1.0" stroke-linecap="butt"/>
<text transform="translate(333.02,342.3)" font-size="10.4" text-anchor="middle">1<tspan dx="-0.8">2</tspan></text>
<line x1="351.54" y1="326.9" x2="351.54" y2="330.4" stroke="#6a6a6a" stroke-width="1.0" stroke-linecap="butt"/>
<text transform="translate(351.54,342.3)" font-size="10.4" text-anchor="middle">1<tspan dx="-0.8">4</tspan></text>
<text transform="translate(292.45,358.1) scale(1.03,1)" font-size="12.4" text-anchor="middle" style="stroke-width:0">d.p.i.</text>
<text transform="translate(184.6,281.5) rotate(-90)" font-size="11.2" text-anchor="middle" style="stroke-width:0.04px">Survival (%)</text>
<polyline points="221.5,235.5 295.5,235.5 295.5,253.5 305.5,253.5 305.5,272.5 314.5,272.5 314.5,281.5 351.5,281.5" fill="none" stroke="#f37f7f" stroke-width="0.9" stroke-dasharray="2.4 2" stroke-linejoin="round"/>
<polyline points="221.5,235.5 286.5,235.5 286.5,243.5 295.5,243.5 295.5,318.5 314.5,318.5 314.5,326.5" fill="none" stroke="#2a2a2a" stroke-width="1.0" stroke-linejoin="round"/>
<circle cx="286.72" cy="243.73" r="2.6" fill="#555" stroke="#000" stroke-width="1.0"/>
<rect x="293.48" y="251.2" width="5" height="5" fill="#f67b7f" stroke="#000" stroke-width="1.0"/>
<rect x="302.74" y="269.5" width="5" height="5" fill="#f67b7f" stroke="#000" stroke-width="1.0"/>
<rect x="312" y="278.65" width="5" height="5" fill="#f67b7f" stroke="#000" stroke-width="1.0"/>
<rect x="349.04" y="278.65" width="5" height="5" fill="#f67b7f" stroke="#000" stroke-width="1.0"/>
<circle cx="295.98" cy="318.57" r="2.6" fill="#555" stroke="#000" stroke-width="1.0"/>
<circle cx="314.5" cy="326.9" r="2.6" fill="#555" stroke="#000" stroke-width="1.0"/>
<text transform="translate(320.9,274.1) scale(0.9,1)" font-size="9.8" font-style="italic">P</text>
<line x1="329.2" y1="270.2" x2="332.8" y2="270.2" stroke="#444" stroke-width="0.9" stroke-linecap="butt"/>
<line x1="329.2" y1="271.9" x2="332.8" y2="271.9" stroke="#444" stroke-width="0.9" stroke-linecap="butt"/>
<text transform="translate(335.8,274.1) scale(1.02,1)" font-size="10.6">0.001</text>
<line x1="413.5" y1="232" x2="413.5" y2="326.5" stroke="#6a6a6a" stroke-width="1.0" stroke-linecap="butt"/>
<line x1="413" y1="326" x2="507.7" y2="326" stroke="#6a6a6a" stroke-width="1.0" stroke-linecap="butt"/>
<line x1="410" y1="326" x2="413.5" y2="326" stroke="#6a6a6a" stroke-width="1.0" stroke-linecap="butt"/>
<text transform="translate(405.6,329.7)" font-size="10.4" text-anchor="end">2</text>
<line x1="410" y1="307.2" x2="413.5" y2="307.2" stroke="#6a6a6a" stroke-width="1.0" stroke-linecap="butt"/>
<text transform="translate(405.6,310.9)" font-size="10.4" text-anchor="end">3</text>
<line x1="410" y1="288.4" x2="413.5" y2="288.4" stroke="#6a6a6a" stroke-width="1.0" stroke-linecap="butt"/>
<text transform="translate(405.6,292.1)" font-size="10.4" text-anchor="end">4</text>
<line x1="410" y1="269.6" x2="413.5" y2="269.6" stroke="#6a6a6a" stroke-width="1.0" stroke-linecap="butt"/>
<text transform="translate(405.6,273.3)" font-size="10.4" text-anchor="end">5</text>
<line x1="410" y1="250.8" x2="413.5" y2="250.8" stroke="#6a6a6a" stroke-width="1.0" stroke-linecap="butt"/>
<text transform="translate(405.6,254.5)" font-size="10.4" text-anchor="end">6</text>
<line x1="410" y1="232" x2="413.5" y2="232" stroke="#6a6a6a" stroke-width="1.0" stroke-linecap="butt"/>
<text transform="translate(405.6,235.7)" font-size="10.4" text-anchor="end">7</text>
<line x1="435.6" y1="326" x2="435.6" y2="329.5" stroke="#6a6a6a" stroke-width="1.0" stroke-linecap="butt"/>
<text transform="translate(435.6,342.6)" font-size="10.4" text-anchor="middle">3</text>
<line x1="485.5" y1="326" x2="485.5" y2="329.5" stroke="#6a6a6a" stroke-width="1.0" stroke-linecap="butt"/>
<text transform="translate(485.5,342.6)" font-size="10.4" text-anchor="middle">5</text>
<text transform="translate(459.7,357.9) scale(1.03,1)" font-size="12.4" text-anchor="middle" style="stroke-width:0">d.p.i.</text>
<text transform="translate(386.3,283.4) rotate(-90) scale(1.03,1)" font-size="10.6" text-anchor="middle" style="stroke-width:0.04px">log<tspan dy="2.6" font-size="0.72em">10</tspan><tspan dy="-2.6">(FFU ml</tspan><tspan dy="-4" font-size="0.72em">−1</tspan><tspan dy="4">)</tspan></text>
<line x1="419.8" y1="243.1" x2="432" y2="243.1" stroke="#aaa" stroke-width="1.0" stroke-linecap="butt"/>
<line x1="426.3" y1="241.5" x2="426.3" y2="250.2" stroke="#aaa" stroke-width="1.0" stroke-linecap="butt"/>
<line x1="423.3" y1="241.5" x2="429.3" y2="241.5" stroke="#aaa" stroke-width="1.0" stroke-linecap="butt"/>
<line x1="423.3" y1="250.2" x2="429.3" y2="250.2" stroke="#aaa" stroke-width="1.0" stroke-linecap="butt"/>
<circle cx="427.7" cy="237.9" r="2.4" fill="#555" stroke="#000" stroke-width="1.0"/>
<circle cx="425.3" cy="239.5" r="2.4" fill="#555" stroke="#000" stroke-width="1.0"/>
<circle cx="421.7" cy="247.4" r="2.4" fill="#555" stroke="#000" stroke-width="1.0"/>
<circle cx="425.7" cy="247" r="2.4" fill="#555" stroke="#000" stroke-width="1.0"/>
<circle cx="429.6" cy="247.4" r="2.4" fill="#555" stroke="#000" stroke-width="1.0"/>
<line x1="438.4" y1="256.2" x2="451.4" y2="256.2" stroke="#aaa" stroke-width="1.0" stroke-linecap="butt"/>
<line x1="445" y1="252" x2="445" y2="272.5" stroke="#aaa" stroke-width="1.0" stroke-linecap="butt"/>
<rect x="439.9" y="248" width="4.8" height="4.8" fill="#f67b7f" stroke="#000" stroke-width="1.0"/>
<rect x="444.7" y="248.6" width="4.8" height="4.8" fill="#f67b7f" stroke="#000" stroke-width="1.0"/>
<rect x="438.1" y="258.1" width="4.8" height="4.8" fill="#f67b7f" stroke="#000" stroke-width="1.0"/>
<rect x="446.8" y="258.1" width="4.8" height="4.8" fill="#f67b7f" stroke="#000" stroke-width="1.0"/>
<rect x="442.3" y="261.7" width="4.8" height="4.8" fill="#f67b7f" stroke="#000" stroke-width="1.0"/>
<rect x="442.3" y="272.8" width="4.8" height="4.8" fill="#f67b7f" stroke="#000" stroke-width="1.0"/>
<line x1="469.5" y1="279.6" x2="483" y2="279.6" stroke="#999" stroke-width="1.0" stroke-linecap="butt"/>
<line x1="476.3" y1="273" x2="476.3" y2="285.5" stroke="#999" stroke-width="1.0" stroke-linecap="butt"/>
<line x1="473.3" y1="273" x2="479.3" y2="273" stroke="#999" stroke-width="1.0" stroke-linecap="butt"/>
<line x1="473.3" y1="285.5" x2="479.3" y2="285.5" stroke="#999" stroke-width="1.0" stroke-linecap="butt"/>
<circle cx="472.3" cy="271.5" r="2.4" fill="#555" stroke="#000" stroke-width="1.0"/>
<circle cx="477.8" cy="273.9" r="2.4" fill="#555" stroke="#000" stroke-width="1.0"/>
<circle cx="480.5" cy="273.9" r="2.4" fill="#555" stroke="#000" stroke-width="1.0"/>
<circle cx="472" cy="277.4" r="2.4" fill="#555" stroke="#000" stroke-width="1.0"/>
<circle cx="475.3" cy="277.4" r="2.4" fill="#555" stroke="#000" stroke-width="1.0"/>
<circle cx="476.3" cy="288.5" r="2.4" fill="#555" stroke="#000" stroke-width="1.0"/>
<circle cx="476.3" cy="294.3" r="2.4" fill="#555" stroke="#000" stroke-width="1.0"/>
<line x1="489.2" y1="288.2" x2="501.6" y2="288.2" stroke="#999" stroke-width="1.0" stroke-linecap="butt"/>
<line x1="495.4" y1="283.6" x2="495.4" y2="304.5" stroke="#999" stroke-width="1.0" stroke-linecap="butt"/>
<line x1="492.4" y1="283.6" x2="498.4" y2="283.6" stroke="#999" stroke-width="1.0" stroke-linecap="butt"/>
<line x1="492.4" y1="304.5" x2="498.4" y2="304.5" stroke="#999" stroke-width="1.0" stroke-linecap="butt"/>
<rect x="489" y="280.4" width="4.8" height="4.8" fill="#f67b7f" stroke="#000" stroke-width="1.0"/>
<rect x="497.2" y="281" width="4.8" height="4.8" fill="#f67b7f" stroke="#000" stroke-width="1.0"/>
<rect x="493" y="283.2" width="4.8" height="4.8" fill="#f67b7f" stroke="#000" stroke-width="1.0"/>
<rect x="490.8" y="306.5" width="4.8" height="4.8" fill="#f67b7f" stroke="#000" stroke-width="1.0"/>
<rect x="495" y="305.1" width="4.8" height="4.8" fill="#f67b7f" stroke="#000" stroke-width="1.0"/>
<line x1="426.3" y1="229.5" x2="445" y2="229.5" stroke="#666" stroke-width="0.9" stroke-linecap="butt"/>
<text transform="translate(434.7,230.34)" font-size="9" text-anchor="middle" font-weight="bold">**</text>
<line x1="476.1" y1="265.5" x2="495.4" y2="265.5" stroke="#666" stroke-width="0.9" stroke-linecap="butt"/>
<text transform="translate(485.7,264.84)" font-size="9" text-anchor="middle" font-weight="bold">*</text>
<text transform="translate(422.1,217.9) scale(0.9,1)" font-size="9.8" font-style="italic">P</text>
<line x1="430.4" y1="214" x2="434" y2="214" stroke="#444" stroke-width="0.9" stroke-linecap="butt"/>
<line x1="430.4" y1="215.7" x2="434" y2="215.7" stroke="#444" stroke-width="0.9" stroke-linecap="butt"/>
<text transform="translate(437,217.9) scale(1.02,1)" font-size="10.6">0.0077</text>
<text transform="translate(471.7,253.9) scale(0.9,1)" font-size="9.8" font-style="italic">P</text>
<line x1="480" y1="250" x2="483.6" y2="250" stroke="#444" stroke-width="0.9" stroke-linecap="butt"/>
<line x1="480" y1="251.7" x2="483.6" y2="251.7" stroke="#444" stroke-width="0.9" stroke-linecap="butt"/>
<text transform="translate(486.6,253.9) scale(1.02,1)" font-size="10.6">0.0366</text>
<text transform="translate(4.7,393.3) scale(1.1,1)" font-size="16.0" font-weight="bold" style="stroke-width:0.45px">d</text>
<text transform="translate(31.4,393)" font-size="12">SARS-CoV-2: GALNT2 OE</text>
<line x1="51.8" y1="407.3" x2="61" y2="407.3" stroke="#444" stroke-width="0.8" stroke-linecap="butt"/>
<circle cx="56.4" cy="407.3" r="2.5" fill="#555" stroke="#000" stroke-width="1.0"/>
<text transform="translate(67.8,410.9) scale(1.01,1)" font-size="9.2">AAV9-EV</text>
<line x1="51.8" y1="419.4" x2="61" y2="419.4" stroke="#444" stroke-width="0.8" stroke-dasharray="1 1" stroke-linecap="butt"/>
<rect x="53.9" y="416.9" width="5.0" height="5.0" fill="#f67b7f" stroke="#000" stroke-width="1.0"/>
<text transform="translate(67.8,423.4) scale(1.01,1)" font-size="9.2">AAV9-GALNT2</text>
<text transform="translate(145.5,410.3) scale(0.95,1)" font-size="9.3">(<tspan font-style="italic">n</tspan></text>
<line x1="156.6" y1="406.6" x2="160.4" y2="406.6" stroke="#444" stroke-width="0.9" stroke-linecap="butt"/>
<line x1="156.6" y1="408.3" x2="160.4" y2="408.3" stroke="#444" stroke-width="0.9" stroke-linecap="butt"/>
<text transform="translate(162.9,410.3) scale(0.95,1)" font-size="9.3">7)</text>
<text transform="translate(145.5,423.6) scale(0.95,1)" font-size="9.3">(<tspan font-style="italic">n</tspan></text>
<line x1="156.6" y1="419.9" x2="160.4" y2="419.9" stroke="#444" stroke-width="0.9" stroke-linecap="butt"/>
<line x1="156.6" y1="421.6" x2="160.4" y2="421.6" stroke="#444" stroke-width="0.9" stroke-linecap="butt"/>
<text transform="translate(162.9,423.6) scale(0.95,1)" font-size="9.3">7)</text>
<line x1="44.5" y1="427.4" x2="44.5" y2="537.9" stroke="#6a6a6a" stroke-width="1.0" stroke-linecap="butt"/>
<line x1="44" y1="537.4" x2="192.3" y2="537.4" stroke="#6a6a6a" stroke-width="1.0" stroke-linecap="butt"/>
<line x1="41" y1="427.4" x2="44.5" y2="427.4" stroke="#6a6a6a" stroke-width="1.0" stroke-linecap="butt"/>
<text transform="translate(36.2,431.1)" font-size="10.4" text-anchor="end">1<tspan dx="-0.8">1</tspan><tspan dx="-0.8">0</tspan></text>
<line x1="41" y1="471.6" x2="44.5" y2="471.6" stroke="#6a6a6a" stroke-width="1.0" stroke-linecap="butt"/>
<text transform="translate(36.2,475.3)" font-size="10.4" text-anchor="end">1<tspan dx="-0.8">0</tspan>0</text>
<line x1="41" y1="515.8" x2="44.5" y2="515.8" stroke="#6a6a6a" stroke-width="1.0" stroke-linecap="butt"/>
<text transform="translate(36.2,519.5)" font-size="10.4" text-anchor="end">90</text>
<line x1="44.5" y1="537.4" x2="44.5" y2="540.9" stroke="#6a6a6a" stroke-width="1.0" stroke-linecap="butt"/>
<text transform="translate(44.5,552.5)" font-size="10.4" text-anchor="middle">0</text>
<line x1="74.04" y1="537.4" x2="74.04" y2="540.9" stroke="#6a6a6a" stroke-width="1.0" stroke-linecap="butt"/>
<text transform="translate(74.04,552.5)" font-size="10.4" text-anchor="middle">2</text>
<line x1="103.58" y1="537.4" x2="103.58" y2="540.9" stroke="#6a6a6a" stroke-width="1.0" stroke-linecap="butt"/>
<text transform="translate(103.58,552.5)" font-size="10.4" text-anchor="middle">4</text>
<line x1="133.12" y1="537.4" x2="133.12" y2="540.9" stroke="#6a6a6a" stroke-width="1.0" stroke-linecap="butt"/>
<text transform="translate(133.12,552.5)" font-size="10.4" text-anchor="middle">6</text>
<line x1="162.66" y1="537.4" x2="162.66" y2="540.9" stroke="#6a6a6a" stroke-width="1.0" stroke-linecap="butt"/>
<text transform="translate(162.66,552.5)" font-size="10.4" text-anchor="middle">8</text>
<line x1="192.2" y1="537.4" x2="192.2" y2="540.9" stroke="#6a6a6a" stroke-width="1.0" stroke-linecap="butt"/>
<text transform="translate(192.2,552.5)" font-size="10.4" text-anchor="middle">1<tspan dx="-0.8">0</tspan></text>
<text transform="translate(119.8,570.5) scale(1.02,1)" font-size="11.6" text-anchor="middle" style="stroke-width:0">d.p.i.</text>
<text transform="translate(9.5,477.8) rotate(-90) scale(1.04,1)" font-size="11.2" text-anchor="middle" style="stroke-width:0.04px">Body weight (%)</text>
<line x1="59.27" y1="495.4" x2="59.27" y2="503.8" stroke="#444" stroke-width="0.8" stroke-linecap="butt"/>
<line x1="57.27" y1="495.4" x2="61.27" y2="495.4" stroke="#444" stroke-width="0.8" stroke-linecap="butt"/>
<line x1="57.27" y1="503.8" x2="61.27" y2="503.8" stroke="#444" stroke-width="0.8" stroke-linecap="butt"/>
<line x1="59.27" y1="483.8" x2="59.27" y2="487.4" stroke="#444" stroke-width="0.8" stroke-linecap="butt"/>
<line x1="57.27" y1="483.8" x2="61.27" y2="483.8" stroke="#444" stroke-width="0.8" stroke-linecap="butt"/>
<line x1="57.27" y1="487.4" x2="61.27" y2="487.4" stroke="#444" stroke-width="0.8" stroke-linecap="butt"/>
<line x1="74.04" y1="508.3" x2="74.04" y2="517.5" stroke="#444" stroke-width="0.8" stroke-linecap="butt"/>
<line x1="72.04" y1="508.3" x2="76.04" y2="508.3" stroke="#444" stroke-width="0.8" stroke-linecap="butt"/>
<line x1="72.04" y1="517.5" x2="76.04" y2="517.5" stroke="#444" stroke-width="0.8" stroke-linecap="butt"/>
<line x1="74.04" y1="484.1" x2="74.04" y2="488.1" stroke="#444" stroke-width="0.8" stroke-linecap="butt"/>
<line x1="72.04" y1="484.1" x2="76.04" y2="484.1" stroke="#444" stroke-width="0.8" stroke-linecap="butt"/>
<line x1="72.04" y1="488.1" x2="76.04" y2="488.1" stroke="#444" stroke-width="0.8" stroke-linecap="butt"/>
<line x1="88.81" y1="510.4" x2="88.81" y2="521.6" stroke="#444" stroke-width="0.8" stroke-linecap="butt"/>
<line x1="86.81" y1="510.4" x2="90.81" y2="510.4" stroke="#444" stroke-width="0.8" stroke-linecap="butt"/>
<line x1="86.81" y1="521.6" x2="90.81" y2="521.6" stroke="#444" stroke-width="0.8" stroke-linecap="butt"/>
<line x1="88.81" y1="475.9" x2="88.81" y2="485.9" stroke="#444" stroke-width="0.8" stroke-linecap="butt"/>
<line x1="86.81" y1="475.9" x2="90.81" y2="475.9" stroke="#444" stroke-width="0.8" stroke-linecap="butt"/>
<line x1="86.81" y1="485.9" x2="90.81" y2="485.9" stroke="#444" stroke-width="0.8" stroke-linecap="butt"/>
<line x1="103.58" y1="507.4" x2="103.58" y2="518.4" stroke="#444" stroke-width="0.8" stroke-linecap="butt"/>
<line x1="101.58" y1="507.4" x2="105.58" y2="507.4" stroke="#444" stroke-width="0.8" stroke-linecap="butt"/>
<line x1="101.58" y1="518.4" x2="105.58" y2="518.4" stroke="#444" stroke-width="0.8" stroke-linecap="butt"/>
<line x1="103.58" y1="472.8" x2="103.58" y2="482.6" stroke="#444" stroke-width="0.8" stroke-linecap="butt"/>
<line x1="101.58" y1="472.8" x2="105.58" y2="472.8" stroke="#444" stroke-width="0.8" stroke-linecap="butt"/>
<line x1="101.58" y1="482.6" x2="105.58" y2="482.6" stroke="#444" stroke-width="0.8" stroke-linecap="butt"/>
<line x1="118.35" y1="501.3" x2="118.35" y2="511.5" stroke="#444" stroke-width="0.8" stroke-linecap="butt"/>
<line x1="116.35" y1="501.3" x2="120.35" y2="501.3" stroke="#444" stroke-width="0.8" stroke-linecap="butt"/>
<line x1="116.35" y1="511.5" x2="120.35" y2="511.5" stroke="#444" stroke-width="0.8" stroke-linecap="butt"/>
<line x1="118.35" y1="469.2" x2="118.35" y2="478.6" stroke="#444" stroke-width="0.8" stroke-linecap="butt"/>
<line x1="116.35" y1="469.2" x2="120.35" y2="469.2" stroke="#444" stroke-width="0.8" stroke-linecap="butt"/>
<line x1="116.35" y1="478.6" x2="120.35" y2="478.6" stroke="#444" stroke-width="0.8" stroke-linecap="butt"/>
<line x1="133.12" y1="504.8" x2="133.12" y2="516.4" stroke="#444" stroke-width="0.8" stroke-linecap="butt"/>
<line x1="131.12" y1="504.8" x2="135.12" y2="504.8" stroke="#444" stroke-width="0.8" stroke-linecap="butt"/>
<line x1="131.12" y1="516.4" x2="135.12" y2="516.4" stroke="#444" stroke-width="0.8" stroke-linecap="butt"/>
<line x1="147.89" y1="499.2" x2="147.89" y2="511.2" stroke="#444" stroke-width="0.8" stroke-linecap="butt"/>
<line x1="145.89" y1="499.2" x2="149.89" y2="499.2" stroke="#444" stroke-width="0.8" stroke-linecap="butt"/>
<line x1="145.89" y1="511.2" x2="149.89" y2="511.2" stroke="#444" stroke-width="0.8" stroke-linecap="butt"/>
<line x1="147.89" y1="459.7" x2="147.89" y2="468.1" stroke="#444" stroke-width="0.8" stroke-linecap="butt"/>
<line x1="145.89" y1="459.7" x2="149.89" y2="459.7" stroke="#444" stroke-width="0.8" stroke-linecap="butt"/>
<line x1="145.89" y1="468.1" x2="149.89" y2="468.1" stroke="#444" stroke-width="0.8" stroke-linecap="butt"/>
<line x1="162.66" y1="489.5" x2="162.66" y2="504.5" stroke="#444" stroke-width="0.8" stroke-linecap="butt"/>
<line x1="160.66" y1="489.5" x2="164.66" y2="489.5" stroke="#444" stroke-width="0.8" stroke-linecap="butt"/>
<line x1="160.66" y1="504.5" x2="164.66" y2="504.5" stroke="#444" stroke-width="0.8" stroke-linecap="butt"/>
<line x1="162.66" y1="452.7" x2="162.66" y2="460.1" stroke="#444" stroke-width="0.8" stroke-linecap="butt"/>
<line x1="160.66" y1="452.7" x2="164.66" y2="452.7" stroke="#444" stroke-width="0.8" stroke-linecap="butt"/>
<line x1="160.66" y1="460.1" x2="164.66" y2="460.1" stroke="#444" stroke-width="0.8" stroke-linecap="butt"/>
<line x1="177.43" y1="483.5" x2="177.43" y2="490.9" stroke="#444" stroke-width="0.8" stroke-linecap="butt"/>
<line x1="175.43" y1="483.5" x2="179.43" y2="483.5" stroke="#444" stroke-width="0.8" stroke-linecap="butt"/>
<line x1="175.43" y1="490.9" x2="179.43" y2="490.9" stroke="#444" stroke-width="0.8" stroke-linecap="butt"/>
<line x1="177.43" y1="452.9" x2="177.43" y2="462.3" stroke="#444" stroke-width="0.8" stroke-linecap="butt"/>
<line x1="175.43" y1="452.9" x2="179.43" y2="452.9" stroke="#444" stroke-width="0.8" stroke-linecap="butt"/>
<line x1="175.43" y1="462.3" x2="179.43" y2="462.3" stroke="#444" stroke-width="0.8" stroke-linecap="butt"/>
<line x1="192.2" y1="475.8" x2="192.2" y2="483.2" stroke="#444" stroke-width="0.8" stroke-linecap="butt"/>
<line x1="190.2" y1="475.8" x2="194.2" y2="475.8" stroke="#444" stroke-width="0.8" stroke-linecap="butt"/>
<line x1="190.2" y1="483.2" x2="194.2" y2="483.2" stroke="#444" stroke-width="0.8" stroke-linecap="butt"/>
<line x1="192.2" y1="446.3" x2="192.2" y2="457.1" stroke="#444" stroke-width="0.8" stroke-linecap="butt"/>
<line x1="190.2" y1="446.3" x2="194.2" y2="446.3" stroke="#444" stroke-width="0.8" stroke-linecap="butt"/>
<line x1="190.2" y1="457.1" x2="194.2" y2="457.1" stroke="#444" stroke-width="0.8" stroke-linecap="butt"/>
<polyline points="44.5,471.6 59.27,499.6 74.04,512.9 88.81,516 103.58,512.9 118.35,506.4 133.12,510.6 147.89,505.2 162.66,497 177.43,487.2 192.2,479.5" fill="none" stroke="#333" stroke-width="0.9" stroke-linejoin="round"/>
<polyline points="44.5,471.6 59.27,485.6 74.04,486.1 88.81,480.9 103.58,477.7 118.35,473.9 133.12,479.1 147.89,463.9 162.66,456.4 177.43,457.6 192.2,451.7" fill="none" stroke="#333" stroke-width="0.8" stroke-dasharray="1 1.2" stroke-linejoin="round"/>
<circle cx="44.5" cy="471.6" r="2.5" fill="#555" stroke="#000" stroke-width="1.0"/>
<circle cx="59.27" cy="499.6" r="2.5" fill="#555" stroke="#000" stroke-width="1.0"/>
<circle cx="74.04" cy="512.9" r="2.5" fill="#555" stroke="#000" stroke-width="1.0"/>
<circle cx="88.81" cy="516" r="2.5" fill="#555" stroke="#000" stroke-width="1.0"/>
<circle cx="103.58" cy="512.9" r="2.5" fill="#555" stroke="#000" stroke-width="1.0"/>
<circle cx="118.35" cy="506.4" r="2.5" fill="#555" stroke="#000" stroke-width="1.0"/>
<circle cx="133.12" cy="510.6" r="2.5" fill="#555" stroke="#000" stroke-width="1.0"/>
<circle cx="147.89" cy="505.2" r="2.5" fill="#555" stroke="#000" stroke-width="1.0"/>
<circle cx="162.66" cy="497" r="2.5" fill="#555" stroke="#000" stroke-width="1.0"/>
<circle cx="177.43" cy="487.2" r="2.5" fill="#555" stroke="#000" stroke-width="1.0"/>
<circle cx="192.2" cy="479.5" r="2.5" fill="#555" stroke="#000" stroke-width="1.0"/>
<rect x="42" y="469.1" width="5.0" height="5.0" fill="#f67b7f" stroke="#000" stroke-width="1.0"/>
<rect x="56.77" y="483.1" width="5.0" height="5.0" fill="#f67b7f" stroke="#000" stroke-width="1.0"/>
<rect x="71.54" y="483.6" width="5.0" height="5.0" fill="#f67b7f" stroke="#000" stroke-width="1.0"/>
<rect x="86.31" y="478.4" width="5.0" height="5.0" fill="#f67b7f" stroke="#000" stroke-width="1.0"/>
<rect x="101.08" y="475.2" width="5.0" height="5.0" fill="#f67b7f" stroke="#000" stroke-width="1.0"/>
<rect x="115.85" y="471.4" width="5.0" height="5.0" fill="#f67b7f" stroke="#000" stroke-width="1.0"/>
<rect x="130.62" y="476.6" width="5.0" height="5.0" fill="#f67b7f" stroke="#000" stroke-width="1.0"/>
<rect x="145.39" y="461.4" width="5.0" height="5.0" fill="#f67b7f" stroke="#000" stroke-width="1.0"/>
<rect x="160.16" y="453.9" width="5.0" height="5.0" fill="#f67b7f" stroke="#000" stroke-width="1.0"/>
<rect x="174.93" y="455.1" width="5.0" height="5.0" fill="#f67b7f" stroke="#000" stroke-width="1.0"/>
<rect x="189.7" y="449.2" width="5.0" height="5.0" fill="#f67b7f" stroke="#000" stroke-width="1.0"/>
<line x1="253.5" y1="428.3" x2="253.5" y2="537.7" stroke="#6a6a6a" stroke-width="1.0" stroke-linecap="butt"/>
<line x1="253" y1="537.2" x2="376.9" y2="537.2" stroke="#6a6a6a" stroke-width="1.0" stroke-linecap="butt"/>
<line x1="250" y1="537.05" x2="253.5" y2="537.05" stroke="#6a6a6a" stroke-width="1.0" stroke-linecap="butt"/>
<text transform="translate(243,540.75)" font-size="10.4" text-anchor="end">1</text>
<line x1="250" y1="515.3" x2="253.5" y2="515.3" stroke="#6a6a6a" stroke-width="1.0" stroke-linecap="butt"/>
<text transform="translate(243,519)" font-size="10.4" text-anchor="end">2</text>
<line x1="250" y1="493.55" x2="253.5" y2="493.55" stroke="#6a6a6a" stroke-width="1.0" stroke-linecap="butt"/>
<text transform="translate(243,497.25)" font-size="10.4" text-anchor="end">3</text>
<line x1="250" y1="471.8" x2="253.5" y2="471.8" stroke="#6a6a6a" stroke-width="1.0" stroke-linecap="butt"/>
<text transform="translate(243,475.5)" font-size="10.4" text-anchor="end">4</text>
<line x1="250" y1="450.05" x2="253.5" y2="450.05" stroke="#6a6a6a" stroke-width="1.0" stroke-linecap="butt"/>
<text transform="translate(243,453.75)" font-size="10.4" text-anchor="end">5</text>
<line x1="250" y1="428.3" x2="253.5" y2="428.3" stroke="#6a6a6a" stroke-width="1.0" stroke-linecap="butt"/>
<text transform="translate(243,432)" font-size="10.4" text-anchor="end">6</text>
<line x1="282.3" y1="537.2" x2="282.3" y2="540.7" stroke="#6a6a6a" stroke-width="1.0" stroke-linecap="butt"/>
<text transform="translate(282.3,554)" font-size="10.4" text-anchor="middle">2</text>
<line x1="348.3" y1="537.2" x2="348.3" y2="540.7" stroke="#6a6a6a" stroke-width="1.0" stroke-linecap="butt"/>
<text transform="translate(348.3,554)" font-size="10.4" text-anchor="middle">4</text>
<text transform="translate(312.1,570.7)" font-size="11.6" text-anchor="middle" style="stroke-width:0">d.p.i.</text>
<text transform="translate(225.3,485.3) rotate(-90) scale(1.03,1)" font-size="10.6" text-anchor="middle" style="stroke-width:0.04px">log<tspan dy="2.6" font-size="0.72em">10</tspan><tspan dy="-2.6">(FFU ml</tspan><tspan dy="-4" font-size="0.72em">−1</tspan><tspan dy="4">)</tspan></text>
<line x1="270" y1="452" x2="270" y2="463" stroke="#444" stroke-width="0.95" stroke-linecap="butt"/>
<line x1="267" y1="452" x2="273" y2="452" stroke="#444" stroke-width="0.95" stroke-linecap="butt"/>
<line x1="267" y1="463" x2="273" y2="463" stroke="#444" stroke-width="0.95" stroke-linecap="butt"/>
<line x1="263.5" y1="457.6" x2="276.5" y2="457.6" stroke="#444" stroke-width="0.95" stroke-linecap="butt"/>
<circle cx="264.5" cy="456.7" r="2.85" fill="#808080" stroke="#000" stroke-width="1.0"/>
<circle cx="270" cy="453.6" r="2.85" fill="#808080" stroke="#000" stroke-width="1.0"/>
<circle cx="275.4" cy="452.3" r="2.85" fill="#808080" stroke="#000" stroke-width="1.0"/>
<circle cx="270" cy="460.7" r="2.85" fill="#808080" stroke="#000" stroke-width="1.0"/>
<circle cx="275.7" cy="458.9" r="2.85" fill="#808080" stroke="#000" stroke-width="1.0"/>
<circle cx="270" cy="466.5" r="2.85" fill="#808080" stroke="#000" stroke-width="1.0"/>
<line x1="286.7" y1="477.2" x2="303" y2="477.2" stroke="#444" stroke-width="0.95" stroke-linecap="butt"/>
<line x1="294.7" y1="469.5" x2="294.7" y2="477.2" stroke="#444" stroke-width="0.95" stroke-linecap="butt"/>
<line x1="291.7" y1="469.5" x2="297.7" y2="469.5" stroke="#444" stroke-width="0.95" stroke-linecap="butt"/>
<rect x="286.5" y="466.7" width="5.6" height="5.6" fill="#f67b7f" stroke="#000" stroke-width="1.0"/>
<rect x="297.5" y="463.7" width="5.6" height="5.6" fill="#f67b7f" stroke="#000" stroke-width="1.0"/>
<rect x="291.9" y="484.4" width="5.6" height="5.6" fill="#f67b7f" stroke="#000" stroke-width="1.0"/>
<rect x="291.9" y="493" width="5.6" height="5.6" fill="#f67b7f" stroke="#000" stroke-width="1.0"/>
<rect x="286.4" y="506.4" width="5.6" height="5.6" fill="#f67b7f" stroke="#000" stroke-width="1.0"/>
<rect x="297.5" y="506.4" width="5.6" height="5.6" fill="#f67b7f" stroke="#000" stroke-width="1.0"/>
<line x1="327.3" y1="493.2" x2="344" y2="493.2" stroke="#444" stroke-width="0.95" stroke-linecap="butt"/>
<line x1="335.6" y1="493.2" x2="335.6" y2="507.3" stroke="#444" stroke-width="0.95" stroke-linecap="butt"/>
<line x1="332.6" y1="507.3" x2="338.6" y2="507.3" stroke="#444" stroke-width="0.95" stroke-linecap="butt"/>
<circle cx="330.4" cy="487.1" r="2.85" fill="#808080" stroke="#000" stroke-width="1.0"/>
<circle cx="341.3" cy="487.1" r="2.85" fill="#808080" stroke="#000" stroke-width="1.0"/>
<circle cx="335.6" cy="491.7" r="2.85" fill="#808080" stroke="#000" stroke-width="1.0"/>
<circle cx="332.7" cy="500.1" r="2.85" fill="#808080" stroke="#000" stroke-width="1.0"/>
<circle cx="338.5" cy="502" r="2.85" fill="#808080" stroke="#000" stroke-width="1.0"/>
<circle cx="335.6" cy="508.9" r="2.85" fill="#808080" stroke="#000" stroke-width="1.0"/>
<line x1="352.2" y1="511.3" x2="368.7" y2="511.3" stroke="#444" stroke-width="0.95" stroke-linecap="butt"/>
<line x1="360.5" y1="503.2" x2="360.5" y2="511.3" stroke="#444" stroke-width="0.95" stroke-linecap="butt"/>
<line x1="357.5" y1="503.2" x2="363.5" y2="503.2" stroke="#444" stroke-width="0.95" stroke-linecap="butt"/>
<rect x="357.8" y="495.8" width="5.6" height="5.6" fill="#f67b7f" stroke="#000" stroke-width="1.0"/>
<rect x="357.8" y="512.1" width="5.6" height="5.6" fill="#f67b7f" stroke="#000" stroke-width="1.0"/>
<rect x="352.1" y="517.4" width="5.6" height="5.6" fill="#f67b7f" stroke="#000" stroke-width="1.0"/>
<rect x="357.8" y="517.4" width="5.6" height="5.6" fill="#f67b7f" stroke="#000" stroke-width="1.0"/>
<rect x="363.3" y="519.3" width="5.6" height="5.6" fill="#f67b7f" stroke="#000" stroke-width="1.0"/>
<rect x="352.1" y="524" width="5.6" height="5.6" fill="#f67b7f" stroke="#000" stroke-width="1.0"/>
<line x1="269.7" y1="445.3" x2="293.3" y2="445.3" stroke="#444" stroke-width="0.95" stroke-linecap="butt"/>
<text transform="translate(279.5,445.54)" font-size="9" text-anchor="middle" font-weight="bold">**</text>
<line x1="336.3" y1="479.2" x2="360.1" y2="479.2" stroke="#444" stroke-width="0.95" stroke-linecap="butt"/>
<text transform="translate(347.1,476.74)" font-size="9" text-anchor="middle" font-weight="bold">*</text>
<text transform="translate(261.6,430.8) scale(0.9,1)" font-size="9.8" font-style="italic">P</text>
<line x1="269.9" y1="426.9" x2="273.5" y2="426.9" stroke="#444" stroke-width="0.9" stroke-linecap="butt"/>
<line x1="269.9" y1="428.6" x2="273.5" y2="428.6" stroke="#444" stroke-width="0.9" stroke-linecap="butt"/>
<text transform="translate(276.5,430.8) scale(1.02,1)" font-size="10.6">0.0017</text>
<text transform="translate(329.2,463.5) scale(0.9,1)" font-size="9.8" font-style="italic">P</text>
<line x1="337.5" y1="459.6" x2="341.1" y2="459.6" stroke="#444" stroke-width="0.9" stroke-linecap="butt"/>
<line x1="337.5" y1="461.3" x2="341.1" y2="461.3" stroke="#444" stroke-width="0.9" stroke-linecap="butt"/>
<text transform="translate(344.1,463.5) scale(1.02,1)" font-size="10.6">0.0255</text>
<text transform="translate(406.5,394.8) scale(1.1,1)" font-size="16.0" font-weight="bold" style="stroke-width:0.45px">e</text>
<text transform="translate(435.8,394.5)" font-size="12">SARS-CoV-2: GALNT2 OE</text>
<text transform="translate(452,413.4)" font-size="11.0" font-style="italic">IFNAR<tspan dy="-4.4" font-size="0.66em">−/−</tspan></text>
<text transform="translate(565.6,414.9)" font-size="11.0" font-style="italic">STAT1<tspan dy="-4.4" font-size="0.66em">−/−</tspan></text>
<line x1="442.4" y1="444.3" x2="442.4" y2="536.7" stroke="#6a6a6a" stroke-width="1.0" stroke-linecap="butt"/>
<line x1="441.9" y1="536.2" x2="504" y2="536.2" stroke="#6a6a6a" stroke-width="1.0" stroke-linecap="butt"/>
<line x1="438.9" y1="536.22" x2="442.4" y2="536.22" stroke="#6a6a6a" stroke-width="1.0" stroke-linecap="butt"/>
<text transform="translate(433.8,540.52)" font-size="10.4" text-anchor="end">3</text>
<line x1="438.9" y1="513.24" x2="442.4" y2="513.24" stroke="#6a6a6a" stroke-width="1.0" stroke-linecap="butt"/>
<text transform="translate(433.8,517.54)" font-size="10.4" text-anchor="end">4</text>
<line x1="438.9" y1="490.26" x2="442.4" y2="490.26" stroke="#6a6a6a" stroke-width="1.0" stroke-linecap="butt"/>
<text transform="translate(433.8,494.56)" font-size="10.4" text-anchor="end">5</text>
<line x1="438.9" y1="467.28" x2="442.4" y2="467.28" stroke="#6a6a6a" stroke-width="1.0" stroke-linecap="butt"/>
<text transform="translate(433.8,471.58)" font-size="10.4" text-anchor="end">6</text>
<line x1="438.9" y1="444.3" x2="442.4" y2="444.3" stroke="#6a6a6a" stroke-width="1.0" stroke-linecap="butt"/>
<text transform="translate(433.8,448.6)" font-size="10.4" text-anchor="end">7</text>
<line x1="460.1" y1="536.2" x2="460.1" y2="539.7" stroke="#6a6a6a" stroke-width="1.0" stroke-linecap="butt"/>
<line x1="486.6" y1="536.2" x2="486.6" y2="539.7" stroke="#6a6a6a" stroke-width="1.0" stroke-linecap="butt"/>
<text transform="translate(412.3,490.3) rotate(-90) scale(1.03,1)" font-size="10.6" text-anchor="middle" style="stroke-width:0.04px">log<tspan dy="2.6" font-size="0.72em">10</tspan><tspan dy="-2.6">(FFU ml</tspan><tspan dy="-4" font-size="0.72em">−1</tspan><tspan dy="4">)</tspan></text>
<line x1="459.9" y1="458.1" x2="459.9" y2="468.8" stroke="#999" stroke-width="1.0" stroke-linecap="butt"/>
<line x1="455.3" y1="468.8" x2="464.5" y2="468.8" stroke="#999" stroke-width="1.0" stroke-linecap="butt"/>
<line x1="453.5" y1="458.1" x2="466.5" y2="458.1" stroke="#ccc" stroke-width="1.0" stroke-linecap="butt"/>
<circle cx="453.6" cy="458.2" r="2.8" fill="#5a5a5a" stroke="#000" stroke-width="1.0"/>
<circle cx="458.1" cy="460.8" r="2.8" fill="#5a5a5a" stroke="#000" stroke-width="1.0"/>
<circle cx="462.3" cy="461.8" r="2.8" fill="#5a5a5a" stroke="#000" stroke-width="1.0"/>
<circle cx="466.3" cy="458.2" r="2.8" fill="#5a5a5a" stroke="#000" stroke-width="1.0"/>
<circle cx="459.9" cy="481.8" r="2.8" fill="#5a5a5a" stroke="#000" stroke-width="1.0"/>
<line x1="477.7" y1="477.3" x2="495.3" y2="477.3" stroke="#444" stroke-width="0.9" stroke-linecap="butt"/>
<line x1="486.6" y1="470" x2="486.6" y2="477.3" stroke="#444" stroke-width="0.9" stroke-linecap="butt"/>
<line x1="483.4" y1="470" x2="489.8" y2="470" stroke="#444" stroke-width="0.9" stroke-linecap="butt"/>
<rect x="477.6" y="467.2" width="5.2" height="5.2" fill="#f67b7f" stroke="#000" stroke-width="1.0"/>
<rect x="490.3" y="467.2" width="5.2" height="5.2" fill="#f67b7f" stroke="#000" stroke-width="1.0"/>
<rect x="484" y="481.7" width="5.2" height="5.2" fill="#f67b7f" stroke="#000" stroke-width="1.0"/>
<rect x="484" y="495.3" width="5.2" height="5.2" fill="#f67b7f" stroke="#000" stroke-width="1.0"/>
<rect x="484" y="510" width="5.2" height="5.2" fill="#f67b7f" stroke="#000" stroke-width="1.0"/>
<line x1="462.3" y1="448.7" x2="485.3" y2="448.7" stroke="#666" stroke-width="0.9" stroke-linecap="butt"/>
<text transform="translate(472.6,448.54)" font-size="9" text-anchor="middle" font-weight="bold">**</text>
<text transform="translate(458.1,433.9) scale(0.9,1)" font-size="9.8" font-style="italic">P</text>
<line x1="466.4" y1="430" x2="470" y2="430" stroke="#444" stroke-width="0.9" stroke-linecap="butt"/>
<line x1="466.4" y1="431.7" x2="470" y2="431.7" stroke="#444" stroke-width="0.9" stroke-linecap="butt"/>
<text transform="translate(473,433.9) scale(1.02,1)" font-size="10.6">0.0075</text>
<text transform="translate(467.3,551.2) rotate(-45)" font-size="11.4" text-anchor="end">AAV9-EV</text>
<text transform="translate(493.3,549.5) rotate(-45)" font-size="11.4" text-anchor="end">AAV9-GALNT2</text>
<line x1="556.4" y1="443.9" x2="556.4" y2="537.5" stroke="#6a6a6a" stroke-width="1.0" stroke-linecap="butt"/>
<line x1="555.9" y1="537" x2="618" y2="537" stroke="#6a6a6a" stroke-width="1.0" stroke-linecap="butt"/>
<line x1="552.9" y1="537.1" x2="556.4" y2="537.1" stroke="#6a6a6a" stroke-width="1.0" stroke-linecap="butt"/>
<text transform="translate(547.8,541.4)" font-size="10.4" text-anchor="end">3</text>
<line x1="552.9" y1="513.8" x2="556.4" y2="513.8" stroke="#6a6a6a" stroke-width="1.0" stroke-linecap="butt"/>
<text transform="translate(547.8,518.1)" font-size="10.4" text-anchor="end">4</text>
<line x1="552.9" y1="490.5" x2="556.4" y2="490.5" stroke="#6a6a6a" stroke-width="1.0" stroke-linecap="butt"/>
<text transform="translate(547.8,494.8)" font-size="10.4" text-anchor="end">5</text>
<line x1="552.9" y1="467.2" x2="556.4" y2="467.2" stroke="#6a6a6a" stroke-width="1.0" stroke-linecap="butt"/>
<text transform="translate(547.8,471.5)" font-size="10.4" text-anchor="end">6</text>
<line x1="552.9" y1="443.9" x2="556.4" y2="443.9" stroke="#6a6a6a" stroke-width="1.0" stroke-linecap="butt"/>
<text transform="translate(547.8,448.2)" font-size="10.4" text-anchor="end">7</text>
<line x1="573.6" y1="537" x2="573.6" y2="540.5" stroke="#6a6a6a" stroke-width="1.0" stroke-linecap="butt"/>
<line x1="600.3" y1="537" x2="600.3" y2="540.5" stroke="#6a6a6a" stroke-width="1.0" stroke-linecap="butt"/>
<text transform="translate(527.7,490.4) rotate(-90) scale(1.03,1)" font-size="10.6" text-anchor="middle" style="stroke-width:0.04px">log<tspan dy="2.6" font-size="0.72em">10</tspan><tspan dy="-2.6">(FFU ml</tspan><tspan dy="-4" font-size="0.72em">−1</tspan><tspan dy="4">)</tspan></text>
<line x1="565" y1="466.9" x2="582.2" y2="466.9" stroke="#aaa" stroke-width="1.0" stroke-linecap="butt"/>
<line x1="573.9" y1="459.8" x2="573.9" y2="473.4" stroke="#999" stroke-width="1.0" stroke-linecap="butt"/>
<line x1="569.55" y1="459.8" x2="578.25" y2="459.8" stroke="#999" stroke-width="1.0" stroke-linecap="butt"/>
<line x1="569.55" y1="473.4" x2="578.25" y2="473.4" stroke="#999" stroke-width="1.0" stroke-linecap="butt"/>
<circle cx="573.9" cy="455.6" r="2.8" fill="#5a5a5a" stroke="#000" stroke-width="1.0"/>
<circle cx="573.9" cy="464.8" r="2.8" fill="#5a5a5a" stroke="#000" stroke-width="1.0"/>
<circle cx="567.2" cy="471.7" r="2.8" fill="#5a5a5a" stroke="#000" stroke-width="1.0"/>
<circle cx="573.9" cy="471.7" r="2.8" fill="#5a5a5a" stroke="#000" stroke-width="1.0"/>
<circle cx="580.3" cy="471.7" r="2.8" fill="#5a5a5a" stroke="#000" stroke-width="1.0"/>
<circle cx="573.9" cy="484.6" r="2.8" fill="#5a5a5a" stroke="#000" stroke-width="1.0"/>
<line x1="591.3" y1="488.4" x2="609.8" y2="488.4" stroke="#999" stroke-width="1.0" stroke-linecap="butt"/>
<line x1="599.9" y1="484.5" x2="599.9" y2="492.5" stroke="#999" stroke-width="1.0" stroke-linecap="butt"/>
<line x1="595.9" y1="484.5" x2="603.9" y2="484.5" stroke="#999" stroke-width="1.0" stroke-linecap="butt"/>
<line x1="595.9" y1="492.5" x2="603.9" y2="492.5" stroke="#999" stroke-width="1.0" stroke-linecap="butt"/>
<rect x="591.4" y="479" width="5.2" height="5.2" fill="#f67b7f" stroke="#000" stroke-width="1.0"/>
<rect x="597.3" y="483.2" width="5.2" height="5.2" fill="#f67b7f" stroke="#000" stroke-width="1.0"/>
<rect x="603.7" y="482" width="5.2" height="5.2" fill="#f67b7f" stroke="#000" stroke-width="1.0"/>
<rect x="591.4" y="495.1" width="5.2" height="5.2" fill="#f67b7f" stroke="#000" stroke-width="1.0"/>
<rect x="597.3" y="492.6" width="5.2" height="5.2" fill="#f67b7f" stroke="#000" stroke-width="1.0"/>
<rect x="603.7" y="493.3" width="5.2" height="5.2" fill="#f67b7f" stroke="#000" stroke-width="1.0"/>
<line x1="575.4" y1="445.2" x2="601.4" y2="445.2" stroke="#666" stroke-width="0.9" stroke-linecap="butt"/>
<text transform="translate(587,444.54)" font-size="9" text-anchor="middle" font-weight="bold">*</text>
<text transform="translate(573.8,430.8) scale(0.9,1)" font-size="9.8" font-style="italic">P</text>
<line x1="582.1" y1="426.9" x2="585.7" y2="426.9" stroke="#444" stroke-width="0.9" stroke-linecap="butt"/>
<line x1="582.1" y1="428.6" x2="585.7" y2="428.6" stroke="#444" stroke-width="0.9" stroke-linecap="butt"/>
<text transform="translate(588.7,430.8) scale(1.02,1)" font-size="10.6">0.0293</text>
<text transform="translate(579.7,553.9) rotate(-45)" font-size="11.4" text-anchor="end">AAV9-EV</text>
<text transform="translate(605.4,552.1) rotate(-45)" font-size="11.4" text-anchor="end">AAV9-GALNT2</text>
</svg>
</body></html>
